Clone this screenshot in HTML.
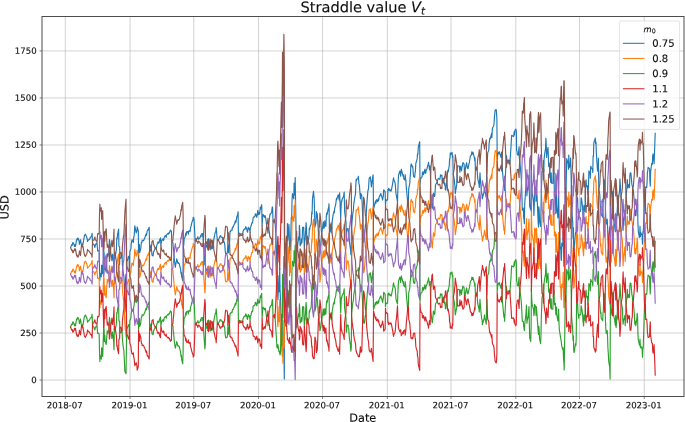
<!DOCTYPE html>
<html><head><meta charset="utf-8"><title>Straddle value</title>
<style>
html,body{margin:0;padding:0;background:#fff;}
svg{display:block;}
text{font-family:"DejaVu Sans","Liberation Sans",sans-serif;fill:#0d0d0d;stroke:#0d0d0d;stroke-width:0.12px;}
.tk{font-size:8.6px;}
.lg{font-size:10.0px;}
.ser{fill:none;stroke-width:1.15;stroke-linejoin:round;stroke-linecap:square;}
</style></head>
<body>
<svg width="685" height="422" viewBox="0 0 685 422">
<rect x="0" y="0" width="685" height="422" fill="#ffffff"/>
<path d="M65.30 16.5V396.5M130.06 16.5V396.5M193.76 16.5V396.5M258.52 16.5V396.5M322.58 16.5V396.5M387.33 16.5V396.5M451.04 16.5V396.5M515.80 16.5V396.5M579.50 16.5V396.5M644.26 16.5V396.5M42.0 380.05H684.0M42.0 333.04H684.0M42.0 286.02H684.0M42.0 239.00H684.0M42.0 191.99H684.0M42.0 144.97H684.0M42.0 97.96H684.0M42.0 50.94H684.0" stroke="#b0b0b0" stroke-width="0.56" fill="none"/>
<clipPath id="c"><rect x="42.0" y="16.5" width="642.00" height="380.00"/></clipPath>
<g clip-path="url(#c)">
<path class="ser" stroke="#1f77b4" d="M70.6 247.6L71.7 244.6L72.0 245.2L72.4 245.0L72.7 242.7L73.1 242.5L74.1 244.9L74.5 246.4L74.8 246.2L75.2 244.5L75.5 246.3L76.6 239.5L76.9 240.3L77.3 238.4L77.7 239.3L78.0 238.0L79.1 241.0L79.4 244.3L79.8 242.6L80.1 242.2L80.5 239.7L81.5 245.3L81.9 245.8L82.2 246.1L82.6 243.5L82.9 244.6L84.0 238.0L84.4 235.8L84.7 235.0L85.1 235.0L85.4 234.2L86.8 237.2L87.2 238.9L87.5 241.4L87.9 240.5L88.9 239.7L89.3 239.1L89.6 239.2L90.0 238.0L90.3 237.4L91.4 236.5L91.8 235.1L92.1 233.4L92.5 242.2L92.8 244.1L93.9 244.2L94.2 245.6L94.6 246.7L94.9 247.4L95.3 245.3L96.3 243.3L96.7 244.1L97.0 242.6L97.4 247.8L97.7 250.9L98.8 250.6L99.2 251.9L99.5 269.6L99.9 280.3L100.2 273.2L101.3 276.8L101.6 265.2L102.0 265.7L102.3 272.8L102.7 273.8L103.7 250.5L104.1 253.3L104.4 269.2L104.8 259.9L105.2 268.7L106.2 272.1L106.6 264.2L106.9 258.8L107.3 253.5L107.6 256.7L108.7 253.9L109.0 250.7L109.4 239.6L109.7 240.9L110.1 245.8L111.1 256.1L111.5 256.9L111.9 260.6L112.2 255.4L112.6 254.2L113.6 262.7L114.0 271.9L114.3 255.5L115.0 258.6L116.1 251.1L116.4 249.4L116.8 237.8L117.1 238.9L117.5 234.8L118.6 229.1L118.9 246.1L119.6 246.8L120.0 258.7L121.0 257.7L121.4 257.9L121.7 255.3L122.1 255.3L122.4 264.9L123.5 275.0L123.8 275.0L124.2 282.4L124.5 289.9L124.9 299.3L126.0 311.7L126.7 264.0L127.0 260.0L127.4 260.6L128.4 256.7L129.1 256.1L129.5 267.8L129.8 252.0L130.9 248.6L131.2 244.1L131.6 242.0L131.9 239.8L132.3 239.9L133.4 242.4L133.7 237.3L134.1 236.2L134.4 232.4L134.8 225.8L136.2 233.0L136.5 231.9L136.9 231.3L137.2 227.0L138.3 230.9L138.6 255.9L139.0 249.5L139.4 244.3L139.7 252.5L140.8 248.7L141.1 244.7L141.5 242.3L141.8 242.7L142.2 240.2L143.2 240.9L143.6 240.3L143.9 240.1L144.3 238.7L144.6 238.5L146.1 233.8L146.4 235.3L146.8 233.6L147.1 231.2L148.2 229.3L148.5 230.0L148.9 227.7L149.2 227.3L149.6 248.2L150.6 246.6L151.0 245.1L151.3 249.1L151.7 251.7L152.0 255.1L153.1 256.0L153.5 252.0L153.8 251.8L154.2 250.4L154.5 249.8L155.6 247.5L155.9 248.0L156.3 248.1L156.6 246.3L157.0 244.6L158.0 241.9L158.4 243.2L158.7 243.2L159.1 242.7L159.5 240.3L160.5 237.9L160.9 245.3L161.2 243.5L161.6 241.2L161.9 240.2L163.0 238.9L163.3 240.5L163.7 240.2L164.0 238.4L164.4 236.8L165.4 235.7L165.8 235.5L166.2 237.4L166.5 235.2L167.9 233.4L168.3 233.9L168.6 234.1L169.0 232.7L169.3 233.2L170.4 230.1L170.7 231.0L171.1 230.9L171.4 231.0L171.8 241.5L172.9 242.6L173.2 247.2L173.6 250.0L173.9 254.5L174.3 259.1L175.3 267.3L175.7 264.6L176.0 263.2L176.4 261.4L176.7 258.9L177.8 263.0L178.1 263.4L178.5 262.7L178.8 263.5L179.2 263.5L180.6 269.3L181.0 273.7L181.3 272.0L181.7 276.6L182.7 280.7L183.1 269.5L183.4 247.2L183.8 244.7L184.1 238.9L185.2 236.8L185.5 234.4L185.9 232.8L186.2 235.3L186.6 231.8L187.7 231.5L188.0 232.9L188.4 234.2L188.7 231.3L189.1 230.7L190.1 231.7L190.5 227.7L190.8 226.8L191.2 225.7L191.5 223.8L192.6 220.2L192.9 220.1L193.3 217.2L194.0 218.8L195.1 240.1L195.4 240.1L195.8 240.0L196.1 241.8L196.5 239.6L197.5 238.2L197.9 236.7L198.2 238.5L198.6 239.1L198.9 239.0L200.0 237.7L200.4 236.8L200.7 235.3L201.1 236.6L201.4 234.0L202.5 233.5L202.8 236.9L203.2 236.9L203.5 243.4L203.9 251.2L204.9 265.0L205.3 260.2L205.6 244.5L206.0 245.7L206.3 247.2L207.4 244.4L207.8 249.6L208.1 244.7L208.5 238.7L208.8 239.9L209.9 248.2L210.2 249.9L210.6 246.2L210.9 241.2L211.3 240.0L212.3 243.3L212.7 248.6L213.0 248.5L213.4 245.7L213.8 239.4L215.2 232.5L215.5 232.0L215.9 230.8L216.2 227.5L217.3 240.0L217.6 240.6L218.0 239.6L218.3 240.1L218.7 239.2L219.7 237.1L220.1 235.9L220.4 235.9L220.8 235.7L221.2 237.3L222.2 237.2L222.6 237.7L222.9 240.2L223.3 242.2L223.6 240.5L224.7 244.0L225.0 248.1L225.4 252.2L225.7 254.0L226.1 253.6L227.1 253.4L227.5 251.1L227.9 242.8L228.2 247.4L228.6 252.8L229.6 241.9L230.0 231.3L230.3 231.3L230.7 231.4L231.0 230.0L232.1 230.1L232.4 227.3L232.8 227.1L233.1 227.3L233.5 226.0L234.6 223.8L234.9 222.8L235.3 220.9L235.6 222.7L236.0 221.6L237.0 216.2L237.4 215.5L237.7 214.1L238.1 211.7L238.4 234.6L239.5 236.0L239.8 236.2L240.2 234.9L240.5 234.1L240.9 234.0L242.0 233.9L242.3 234.7L242.7 235.3L243.0 231.4L243.4 230.6L244.4 228.9L244.8 228.9L245.1 229.2L245.8 226.6L246.9 229.6L247.2 231.5L247.6 232.2L248.0 228.5L248.3 227.3L249.4 229.9L249.7 228.7L250.1 232.4L250.4 227.1L250.8 227.1L251.8 223.0L252.2 222.6L252.5 223.0L252.9 220.3L253.2 217.3L254.3 216.8L254.7 217.0L255.4 213.8L255.7 213.8L256.8 217.3L257.1 215.5L257.8 210.4L258.2 214.7L259.2 212.6L259.6 214.3L259.9 211.3L260.3 207.2L260.6 209.1L261.7 204.7L262.1 225.7L262.4 221.0L262.8 215.0L263.1 214.6L264.5 217.3L264.9 215.5L265.2 215.7L265.6 217.4L266.6 224.7L267.0 228.4L267.3 227.4L267.7 230.7L268.0 233.1L269.1 220.6L269.5 218.2L269.8 214.5L270.2 214.7L270.5 213.2L271.6 213.0L271.9 209.7L272.3 206.9L272.6 207.6L273.0 221.1L274.4 223.0L274.7 220.0L275.1 222.5L275.5 229.0L276.5 250.1L276.9 268.4L277.2 270.6L277.6 295.3L277.9 299.8L279.0 275.6L279.3 291.7L279.7 268.1L280.0 288.0L280.4 297.7L281.4 335.1L281.8 314.4L282.2 338.6L282.5 355.2L282.9 345.8L283.9 351.2L284.3 378.9L284.6 265.7L285.0 263.9L285.3 280.8L286.4 290.7L286.7 257.5L287.1 252.3L287.4 223.6L287.8 240.3L288.9 224.2L289.2 232.1L289.6 253.5L289.9 243.0L290.3 250.2L291.3 217.3L291.7 218.2L292.0 201.1L292.4 193.6L293.8 198.9L294.1 183.1L294.5 194.9L294.8 191.7L295.2 177.6L296.3 247.1L296.6 262.6L297.0 251.6L297.3 251.8L297.7 244.6L298.7 236.9L299.1 239.8L299.4 225.3L299.8 230.6L300.1 245.8L301.2 243.6L301.5 238.9L301.9 242.6L302.3 236.4L302.6 227.2L303.7 227.2L304.0 238.5L304.4 247.9L304.7 241.7L305.1 239.6L306.1 222.7L306.5 228.5L306.8 240.3L307.2 244.6L307.5 243.5L309.0 236.5L309.3 228.3L309.7 229.4L310.0 226.8L311.1 224.5L311.4 219.8L311.8 211.9L312.1 214.0L312.5 198.6L313.5 191.4L313.9 196.1L314.2 199.3L314.6 213.3L314.9 227.3L316.0 222.5L316.4 211.5L316.7 213.8L317.1 213.4L317.4 216.6L318.5 233.4L318.8 230.9L319.2 246.0L319.5 239.8L319.9 253.7L320.9 245.6L321.3 236.8L321.6 233.8L322.0 231.2L323.4 221.8L323.8 228.4L324.1 223.7L324.5 227.1L324.8 220.9L325.9 226.5L326.2 218.6L326.6 213.0L326.9 215.0L327.3 213.3L328.3 208.3L328.7 207.3L329.0 203.7L329.4 227.8L329.8 231.5L330.8 228.0L331.2 233.0L331.5 226.8L331.9 228.5L332.2 221.1L333.3 213.7L333.6 212.9L334.0 211.2L334.3 213.0L334.7 208.1L335.7 204.7L336.1 201.2L336.5 198.4L336.8 199.6L337.2 197.8L338.2 194.7L338.6 196.1L338.9 198.2L339.3 200.2L339.6 192.8L340.7 218.7L341.0 209.6L341.4 200.9L341.7 201.9L342.1 199.2L343.2 196.9L343.5 196.9L343.9 194.0L344.2 192.1L344.6 211.5L346.0 222.1L346.3 237.6L346.7 232.6L347.0 229.0L348.1 228.6L348.4 231.3L348.8 232.3L349.1 237.9L349.5 242.3L350.6 250.1L350.9 254.6L351.3 250.8L351.6 227.3L352.0 221.5L353.0 211.8L353.4 210.5L353.7 204.5L354.1 202.2L354.4 199.5L355.5 193.7L355.8 185.2L356.2 179.4L356.5 180.6L356.9 179.1L358.0 178.5L358.3 176.2L358.7 180.4L359.0 183.9L359.4 185.3L360.4 198.8L360.8 193.5L361.1 194.0L361.5 194.8L361.8 195.6L362.9 220.0L363.2 231.4L363.6 242.4L364.0 241.2L364.3 239.9L365.4 224.8L365.7 226.1L366.1 219.0L366.4 210.8L366.8 204.6L367.8 191.6L368.2 189.6L368.5 188.9L368.9 182.1L369.2 178.2L370.3 176.8L370.7 180.3L371.0 182.3L371.4 186.9L371.7 184.1L372.8 176.4L373.1 174.8L373.5 209.4L374.2 206.5L375.2 202.0L375.6 201.1L375.9 203.3L376.3 200.3L376.6 199.7L377.7 201.7L378.1 198.8L378.4 200.8L378.8 199.6L379.1 197.2L380.2 194.7L380.5 194.2L380.9 193.5L381.2 195.9L381.6 195.7L382.6 200.0L383.0 197.5L383.3 196.3L383.7 189.9L385.1 191.7L385.5 204.8L385.8 199.4L386.2 200.7L387.6 199.8L387.9 189.7L388.3 190.7L388.6 188.4L389.0 188.8L390.0 190.9L390.4 189.8L390.8 190.3L391.1 191.1L391.5 189.7L392.9 182.2L393.2 179.6L393.6 177.8L393.9 180.1L395.0 182.6L395.3 184.1L395.7 189.9L396.0 193.9L396.4 195.6L397.5 201.9L397.8 190.9L398.2 181.5L398.5 175.4L398.9 174.0L399.9 171.0L400.3 172.5L400.6 176.1L401.0 173.0L401.3 169.2L402.7 174.6L403.1 176.5L403.4 174.7L403.8 178.8L404.9 180.0L405.2 174.7L405.6 178.6L405.9 180.7L406.3 187.6L407.3 197.8L407.7 204.3L408.0 204.2L408.4 202.8L408.7 188.8L409.8 183.2L410.1 177.4L410.5 173.4L410.8 165.8L411.2 163.9L412.3 167.0L412.6 166.0L413.0 169.1L413.3 174.3L413.7 176.5L414.7 177.3L415.1 172.1L415.4 171.8L415.8 163.6L416.1 162.5L417.2 158.9L417.5 153.9L417.9 154.3L418.3 147.1L419.7 141.7L420.0 187.3L420.4 180.3L420.7 179.3L421.1 177.6L422.1 176.7L422.5 172.1L422.8 172.1L423.2 172.1L423.5 174.6L424.6 170.5L425.0 169.1L425.3 173.2L425.7 173.3L426.0 170.9L427.1 168.4L427.4 166.8L427.8 165.1L428.1 165.3L428.5 162.2L429.5 169.8L429.9 168.9L430.2 165.9L430.6 181.8L430.9 194.8L432.0 207.4L432.4 208.3L432.7 203.2L433.1 198.0L433.4 193.1L434.5 196.5L434.8 195.2L435.2 189.8L435.5 185.0L435.9 184.3L436.9 182.6L437.3 181.6L437.6 180.1L438.0 179.1L438.4 178.4L439.8 179.4L440.1 177.8L440.5 174.8L440.8 176.0L441.9 175.1L442.2 180.7L442.6 181.8L442.9 178.8L443.3 178.3L444.3 183.6L444.7 185.3L445.0 183.2L445.4 189.8L445.8 190.2L446.8 182.3L447.2 176.6L447.5 172.5L447.9 170.2L448.2 172.0L449.3 165.1L449.6 159.1L450.0 158.0L450.3 152.9L450.7 154.7L452.1 152.4L452.5 157.1L452.8 155.8L453.2 174.1L454.2 178.9L454.6 183.6L454.9 185.4L455.3 193.6L455.6 191.4L456.7 184.8L457.0 174.7L457.4 166.7L457.7 165.7L458.1 166.0L459.2 166.0L459.5 168.1L459.9 172.1L460.2 166.2L460.6 167.1L461.6 170.8L462.0 165.7L462.3 166.6L462.7 163.5L463.0 162.6L464.1 164.1L464.4 171.1L464.8 172.1L465.1 170.5L465.5 167.8L466.6 162.7L466.9 164.2L467.3 168.0L467.6 167.2L468.0 168.8L469.0 163.7L469.4 162.6L469.7 160.0L470.1 158.0L470.4 155.9L471.5 154.9L471.8 151.8L472.2 154.1L472.6 154.0L472.9 152.0L474.3 157.3L474.7 160.6L475.0 157.8L475.4 168.6L476.4 169.8L476.8 167.1L477.1 168.8L477.5 175.9L477.8 179.1L478.9 183.8L479.3 187.5L479.6 180.5L480.0 172.9L480.3 178.3L481.4 190.8L481.7 193.7L482.1 193.7L482.4 198.8L482.8 196.7L483.8 192.9L484.2 190.5L484.5 188.0L484.9 191.4L485.2 192.5L486.3 197.4L486.7 175.5L487.0 173.0L487.4 159.1L487.7 152.9L488.8 150.1L489.1 143.7L489.5 140.7L489.8 138.1L490.2 139.0L491.2 135.1L491.6 133.4L491.9 137.7L492.3 129.4L492.6 127.7L493.7 126.0L494.1 122.8L494.4 117.4L494.8 113.6L495.1 110.2L496.2 109.5L496.5 112.7L496.9 119.8L497.2 161.5L497.6 155.8L498.6 152.2L499.0 153.2L499.3 151.7L499.7 154.1L500.1 154.3L501.1 157.5L501.5 152.0L501.8 154.4L502.5 171.5L503.6 183.1L503.9 186.6L504.3 183.8L504.6 190.5L505.0 182.7L506.0 164.3L506.4 155.5L506.8 159.1L507.1 161.5L507.5 160.5L508.5 160.0L508.9 162.2L509.2 164.0L509.6 164.2L509.9 162.9L511.0 147.3L511.3 140.5L511.7 135.3L512.0 135.4L513.5 136.4L513.8 135.9L514.2 131.5L514.5 135.0L514.9 130.3L515.9 129.0L516.3 131.4L516.6 150.6L517.0 151.1L517.3 154.8L518.4 155.1L518.7 150.2L519.1 146.7L519.4 158.4L519.8 160.8L521.2 176.9L521.6 185.1L521.9 194.5L522.3 210.3L523.3 208.1L523.7 218.2L524.0 219.4L524.4 223.7L524.7 204.2L525.8 188.5L526.1 182.6L526.5 174.7L526.9 195.8L527.2 191.5L528.3 186.0L528.6 180.6L529.0 175.1L529.3 190.7L529.7 206.7L530.7 209.9L531.1 196.9L531.4 169.5L531.8 187.2L532.1 192.9L533.5 201.1L533.9 215.5L534.3 204.2L534.6 186.5L535.7 188.6L536.0 201.3L536.4 186.2L536.7 190.7L537.1 197.1L538.1 221.1L538.5 226.9L538.8 206.7L539.2 210.1L539.5 220.6L540.6 226.5L541.0 209.7L541.3 191.7L541.7 181.5L542.0 171.9L543.1 170.3L543.4 160.7L543.8 171.2L544.1 159.2L544.5 154.9L545.5 148.7L545.9 138.2L546.2 143.8L546.6 157.3L546.9 154.3L548.0 147.4L548.4 158.3L548.7 166.6L549.1 163.0L549.4 165.2L550.5 179.3L550.8 182.4L551.2 172.9L551.5 183.1L552.9 183.3L553.3 170.1L553.6 170.7L554.0 173.3L554.4 195.9L555.4 191.6L555.8 213.7L556.1 212.3L556.5 193.4L556.8 205.7L557.9 218.0L558.2 214.4L558.6 191.1L558.9 207.7L559.3 224.3L560.3 248.7L560.7 247.1L561.1 259.4L561.4 260.5L561.8 243.0L562.8 246.1L563.2 230.8L563.5 248.5L563.9 266.2L564.2 266.2L565.3 193.0L565.6 199.2L566.0 192.2L566.3 177.4L566.7 158.6L568.1 163.5L568.5 169.3L568.8 155.0L569.2 167.8L570.2 165.6L570.6 158.0L570.9 166.5L571.3 184.9L571.6 206.9L572.7 222.5L573.0 238.1L573.4 227.8L573.7 250.9L574.1 249.4L575.5 232.5L575.9 233.5L576.2 226.7L576.6 196.0L577.6 198.3L578.0 212.8L578.3 213.4L578.7 219.8L579.0 212.4L580.4 211.3L580.8 208.7L581.1 197.8L581.5 198.6L582.6 207.0L582.9 213.6L583.3 216.8L583.6 219.1L584.0 205.3L585.0 211.4L585.4 191.4L585.7 187.1L586.1 179.8L586.4 186.7L587.5 185.8L587.8 194.4L588.2 190.8L588.6 181.8L588.9 170.9L590.0 173.0L590.3 178.3L590.7 166.2L591.0 166.8L591.4 168.1L592.4 169.0L592.8 172.4L593.1 155.9L593.5 156.4L593.8 142.7L594.9 139.5L595.3 138.0L595.6 143.8L596.0 142.0L596.3 152.3L597.4 169.4L597.7 171.1L598.1 168.9L598.4 158.0L598.8 189.2L599.8 194.3L600.2 202.7L600.5 208.5L600.9 206.3L601.2 214.3L602.7 217.3L603.0 203.9L603.4 199.0L603.7 187.6L604.8 179.5L605.1 194.9L605.5 210.3L605.8 218.8L606.2 224.1L607.2 219.0L607.6 227.3L607.9 239.7L608.3 245.7L608.7 257.9L609.7 265.1L610.1 266.6L610.4 204.9L610.8 219.4L611.1 229.2L612.2 212.6L612.5 191.6L612.9 193.1L613.2 200.3L613.6 219.9L614.6 225.2L615.0 229.5L615.4 231.8L615.7 214.4L616.1 230.7L617.1 212.9L617.5 205.0L617.8 209.7L618.2 215.2L618.5 198.8L619.6 190.5L619.9 178.9L620.3 184.1L620.6 188.7L621.0 196.6L622.0 202.0L622.4 205.0L622.8 222.9L623.1 230.3L623.5 221.0L624.5 214.3L624.9 210.3L625.2 225.2L625.6 212.2L625.9 199.2L627.0 186.1L627.3 179.5L627.7 185.7L628.0 188.0L628.4 184.6L629.5 187.4L629.8 177.3L630.2 172.9L630.9 173.1L631.9 184.8L632.3 185.9L632.6 188.2L633.0 188.8L633.3 189.7L634.4 203.4L634.7 214.3L635.1 215.7L635.4 210.2L635.8 215.7L636.9 205.0L637.2 199.5L637.6 204.2L637.9 222.8L638.3 231.1L639.3 237.5L639.7 236.7L640.0 226.2L640.4 236.7L640.7 232.4L642.1 235.4L642.5 244.1L642.9 231.7L643.2 233.4L644.6 200.2L645.0 194.8L645.3 203.3L645.7 186.9L646.7 187.5L647.1 182.4L647.4 172.8L647.8 170.4L648.1 167.4L649.6 168.9L649.9 180.5L650.3 186.2L650.6 172.2L651.7 163.4L652.0 164.0L652.4 164.2L652.7 155.9L653.1 153.8L654.1 163.8L654.5 152.7L654.8 144.8L655.2 133.3"/>
<path class="ser" stroke="#ff7f0e" d="M70.6 274.1L71.7 271.1L72.0 271.7L72.4 271.5L72.7 269.2L73.1 269.0L74.1 271.4L74.5 272.9L74.8 272.7L75.2 271.0L75.5 272.8L76.6 266.0L76.9 266.8L77.3 264.9L77.7 265.8L78.0 264.5L79.1 267.4L79.4 270.8L79.8 269.1L80.1 268.7L80.5 266.2L81.5 272.3L81.9 272.7L82.2 273.0L82.6 270.5L82.9 271.5L84.0 264.9L84.4 262.8L84.7 261.9L85.1 261.9L85.4 261.1L86.8 264.1L87.2 265.8L87.5 268.3L87.9 267.5L88.9 266.6L89.3 266.0L89.6 266.1L90.0 265.0L90.3 264.4L91.4 263.4L91.8 262.0L92.1 260.3L92.5 269.8L92.8 271.7L93.9 271.8L94.2 273.2L94.6 274.2L94.9 275.0L95.3 272.9L96.3 270.9L96.7 271.7L97.0 270.2L97.4 275.3L97.7 278.5L98.8 278.2L99.2 279.5L99.5 297.2L99.9 307.9L100.2 300.7L101.3 304.4L101.6 292.8L102.0 293.2L102.3 300.3L102.7 301.4L103.7 276.3L104.1 279.2L104.4 294.9L104.8 285.7L105.2 294.5L106.2 297.8L106.6 290.1L106.9 284.7L107.3 279.4L107.6 282.6L108.7 279.8L109.0 276.6L109.4 265.5L109.7 266.8L110.1 271.7L111.1 282.0L111.5 282.8L111.9 286.5L112.2 281.3L112.6 280.2L113.6 288.6L114.0 297.8L114.3 280.3L115.0 283.5L116.1 276.0L116.4 274.4L116.8 262.7L117.1 263.8L117.5 259.7L118.6 254.0L118.9 271.0L119.6 271.7L120.0 283.6L121.0 282.6L121.4 282.8L121.7 280.2L122.1 280.2L122.4 289.8L123.5 299.9L123.8 299.9L124.2 307.3L124.5 314.8L124.9 324.2L126.0 336.6L126.7 287.0L127.0 283.1L127.4 283.7L128.4 279.8L129.1 279.3L129.5 290.9L129.8 275.2L130.9 271.8L131.2 267.3L131.6 265.2L131.9 263.0L132.3 263.2L133.4 265.6L133.7 260.5L134.1 259.4L134.4 255.6L134.8 249.0L136.2 256.2L136.5 255.1L136.9 254.5L137.2 250.2L138.3 254.1L138.6 280.7L139.0 274.3L139.4 269.1L139.7 277.3L140.8 273.5L141.1 269.5L141.5 267.1L141.8 267.5L142.2 265.0L143.2 265.7L143.6 265.1L143.9 264.9L144.3 263.5L144.6 263.3L146.1 258.6L146.4 260.2L146.8 258.4L147.1 256.0L148.2 254.1L148.5 254.8L148.9 252.5L149.2 252.2L149.6 274.6L150.6 272.9L151.0 271.4L151.3 275.5L151.7 278.1L152.0 281.4L153.1 282.3L153.5 278.4L153.8 278.1L154.2 276.7L154.5 276.2L155.6 273.9L155.9 274.3L156.3 274.4L156.6 272.6L157.0 271.0L158.0 268.3L158.4 269.5L158.7 269.5L159.1 269.1L159.5 266.7L160.5 264.3L160.9 272.2L161.2 270.4L161.6 268.2L161.9 267.2L163.0 265.8L163.3 267.5L163.7 267.2L164.0 265.3L164.4 263.8L165.4 262.6L165.8 262.4L166.2 264.3L166.5 262.2L167.9 260.3L168.3 260.9L168.6 261.0L169.0 259.7L169.3 260.1L170.4 257.0L170.7 258.0L171.1 257.9L171.4 258.0L171.8 269.2L172.9 270.3L173.2 274.9L173.6 277.7L173.9 282.2L174.3 286.8L175.3 294.9L175.7 292.3L176.0 290.9L176.4 289.1L176.7 286.6L177.8 290.7L178.1 291.1L178.5 290.4L178.8 291.2L179.2 291.2L180.6 297.0L181.0 301.4L181.3 299.7L181.7 304.3L182.7 308.4L183.1 297.2L183.4 273.8L183.8 271.3L184.1 265.5L185.2 263.3L185.5 260.9L185.9 259.4L186.2 261.8L186.6 258.3L187.7 258.1L188.0 259.5L188.4 260.8L188.7 257.8L189.1 257.3L190.1 258.3L190.5 254.2L190.8 253.3L191.2 252.3L191.5 250.4L192.6 246.7L192.9 246.6L193.3 243.7L194.0 245.4L195.1 268.1L195.4 268.1L195.8 268.0L196.1 269.8L196.5 267.6L197.5 266.2L197.9 264.7L198.2 266.4L198.6 267.1L198.9 267.0L200.0 265.6L200.4 264.8L200.7 263.3L201.1 264.6L201.4 262.0L202.5 261.5L202.8 264.9L203.2 264.9L203.5 271.3L203.9 279.2L204.9 292.9L205.3 288.2L205.6 271.6L206.0 272.8L206.3 274.3L207.4 271.5L207.8 276.7L208.1 271.8L208.5 265.8L208.8 267.0L209.9 275.3L210.2 277.1L210.6 273.4L210.9 268.3L211.3 267.1L212.3 270.4L212.7 275.7L213.0 275.6L213.4 272.8L213.8 266.5L215.2 259.7L215.5 259.1L215.9 257.9L216.2 254.6L217.3 268.0L217.6 268.6L218.0 267.6L218.3 268.0L218.7 267.2L219.7 265.1L220.1 263.9L220.4 263.9L220.8 263.7L221.2 265.3L222.2 265.2L222.6 265.7L222.9 268.2L223.3 270.2L223.6 268.5L224.7 272.0L225.0 276.1L225.4 280.2L225.7 282.0L226.1 281.6L227.1 281.4L227.5 279.1L227.9 270.3L228.2 274.8L228.6 280.2L229.6 269.3L230.0 258.7L230.3 258.8L230.7 258.8L231.0 257.5L232.1 257.6L232.4 254.7L232.8 254.6L233.1 254.7L233.5 253.4L234.6 251.3L234.9 250.3L235.3 248.4L235.6 250.1L236.0 249.1L237.0 243.6L237.4 243.0L237.7 241.6L238.1 239.2L238.4 263.7L239.5 265.1L239.8 265.3L240.2 263.9L240.5 263.1L240.9 263.1L242.0 263.0L242.3 263.8L242.7 264.4L243.0 260.5L243.4 259.7L244.4 258.0L244.8 258.0L245.1 258.3L245.8 255.6L246.9 258.7L247.2 260.6L247.6 261.3L248.0 257.6L248.3 256.4L249.4 259.0L249.7 257.8L250.1 261.9L250.4 256.6L250.8 256.6L251.8 252.5L252.2 252.1L252.5 252.5L252.9 249.9L253.2 246.9L254.3 246.3L254.7 246.5L255.4 243.3L255.7 243.3L256.8 246.9L257.1 245.0L257.8 239.9L258.2 244.2L259.2 242.2L259.6 243.9L259.9 240.8L260.3 236.7L260.6 238.6L261.7 234.3L262.1 256.6L262.4 251.9L262.8 245.9L263.1 245.5L264.5 248.1L264.9 246.4L265.2 246.6L265.6 248.3L266.6 255.6L267.0 259.3L267.3 258.2L267.7 261.6L268.0 264.0L269.1 251.5L269.5 249.1L269.8 245.4L270.2 245.6L270.5 244.1L271.6 243.9L271.9 240.6L272.3 237.8L272.6 238.4L273.0 252.9L274.4 254.8L274.7 251.8L275.1 254.2L275.5 260.8L276.5 281.7L276.9 299.4L277.2 301.6L277.6 322.8L277.9 326.7L279.0 306.7L279.3 321.4L279.7 299.8L280.0 318.9L280.4 327.8L281.4 350.8L281.8 342.6L282.2 356.0L282.5 336.2L282.9 363.2L283.9 320.2L284.3 347.1L284.6 286.1L285.0 284.7L285.3 299.2L286.4 306.8L286.7 279.0L287.1 274.1L287.4 246.0L287.8 262.6L288.9 246.7L289.2 254.6L289.6 275.8L289.9 265.5L290.3 272.6L291.3 239.8L291.7 240.8L292.0 223.7L292.4 216.1L293.8 221.4L294.1 205.6L294.5 217.5L294.8 214.3L295.2 200.2L296.3 273.0L296.6 287.5L297.0 277.4L297.3 277.8L297.7 270.9L298.7 263.3L299.1 266.2L299.4 251.8L299.8 257.1L300.1 272.3L301.2 270.1L301.5 265.4L301.9 269.2L302.3 263.0L302.6 253.7L303.7 253.7L304.0 265.0L304.4 274.4L304.7 268.2L305.1 266.2L306.1 249.2L306.5 255.1L306.8 268.0L307.2 272.3L307.5 271.2L309.0 264.4L309.3 256.2L309.7 257.3L310.0 254.7L311.1 252.5L311.4 247.8L311.8 239.9L312.1 241.9L312.5 226.5L313.5 219.4L313.9 224.1L314.2 227.3L314.6 241.3L314.9 255.3L316.0 250.4L316.4 239.5L316.7 241.8L317.1 241.4L317.4 244.6L318.5 262.4L318.8 260.0L319.2 274.7L319.5 268.8L319.9 282.2L320.9 274.5L321.3 266.0L321.6 263.1L322.0 260.5L323.4 251.1L323.8 257.7L324.1 253.0L324.5 256.4L324.8 250.2L325.9 255.8L326.2 247.9L326.6 242.3L326.9 244.3L327.3 242.7L328.3 237.6L328.7 236.6L329.0 233.1L329.4 258.0L329.8 261.7L330.8 258.2L331.2 263.3L331.5 257.2L331.9 258.8L332.2 251.5L333.3 244.1L333.6 243.3L334.0 241.6L334.3 243.4L334.7 238.5L335.7 235.1L336.1 231.6L336.5 228.8L336.8 230.0L337.2 228.2L338.2 225.1L338.6 226.6L338.9 228.6L339.3 230.6L339.6 223.2L340.7 250.9L341.0 241.9L341.4 233.2L341.7 234.1L342.1 231.5L343.2 229.2L343.5 229.1L343.9 226.2L344.2 224.4L344.6 243.7L346.0 254.4L346.3 269.8L346.7 264.8L347.0 261.2L348.1 260.9L348.4 263.6L348.8 264.6L349.1 270.2L349.5 274.6L350.6 282.4L350.9 286.8L351.3 283.1L351.6 257.6L352.0 251.9L353.0 242.2L353.4 240.9L353.7 235.0L354.1 232.7L354.4 230.0L355.5 224.3L355.8 215.7L356.2 210.0L356.5 211.1L356.9 209.7L358.0 209.0L358.3 206.8L358.7 210.9L359.0 214.4L359.4 215.9L360.4 229.3L360.8 224.1L361.1 224.5L361.5 225.4L361.8 226.1L362.9 251.5L363.2 262.5L363.6 272.8L364.0 271.9L364.3 270.9L365.4 256.5L365.7 257.8L366.1 250.9L366.4 242.8L366.8 236.6L367.8 223.6L368.2 221.6L368.5 220.8L368.9 214.0L369.2 210.2L370.3 208.8L370.7 212.3L371.0 214.3L371.4 218.9L371.7 216.1L372.8 208.3L373.1 206.8L373.5 243.4L374.2 240.6L375.2 236.1L375.6 235.3L375.9 237.5L376.3 234.5L376.6 233.9L377.7 235.8L378.1 232.9L378.4 235.0L378.8 233.7L379.1 231.4L380.2 228.8L380.5 228.3L380.9 227.6L381.2 230.0L381.6 229.8L382.6 234.2L383.0 231.6L383.3 230.5L383.7 224.1L385.1 225.8L385.5 239.7L385.8 234.4L386.2 235.7L387.6 234.8L387.9 224.7L388.3 225.8L388.6 223.5L389.0 223.9L390.0 225.9L390.4 224.9L390.8 225.3L391.1 226.2L391.5 224.8L392.9 217.3L393.2 214.6L393.6 212.8L393.9 215.2L395.0 217.6L395.3 219.1L395.7 224.9L396.0 228.9L396.4 230.7L397.5 237.2L397.8 226.4L398.2 217.1L398.5 210.9L398.9 209.6L399.9 206.6L400.3 208.1L400.6 211.7L401.0 208.7L401.3 204.9L402.7 210.2L403.1 212.1L403.4 210.3L403.8 214.4L404.9 215.6L405.2 210.3L405.6 214.2L405.9 216.4L406.3 223.3L407.3 233.4L407.7 239.9L408.0 239.8L408.4 238.1L408.7 224.2L409.8 218.6L410.1 212.8L410.5 208.8L410.8 201.2L411.2 199.3L412.3 202.4L412.6 201.5L413.0 204.5L413.3 209.7L413.7 211.9L414.7 212.7L415.1 207.5L415.4 207.3L415.8 199.0L416.1 197.9L417.2 194.4L417.5 189.3L417.9 189.7L418.3 182.5L419.7 177.1L420.0 225.8L420.4 218.9L420.7 217.8L421.1 216.1L422.1 215.2L422.5 210.7L422.8 210.7L423.2 210.6L423.5 213.2L424.6 209.1L425.0 207.6L425.3 211.8L425.7 211.8L426.0 209.5L427.1 206.9L427.4 205.3L427.8 203.7L428.1 203.8L428.5 200.7L429.5 208.3L429.9 207.4L430.2 204.4L430.6 221.4L430.9 234.4L432.0 246.9L432.4 247.9L432.7 242.8L433.1 237.6L433.4 232.8L434.5 236.2L434.8 234.8L435.2 229.4L435.5 224.6L435.9 224.0L436.9 222.3L437.3 221.3L437.6 219.7L438.0 218.7L438.4 218.1L439.8 219.0L440.1 217.4L440.5 214.5L440.8 215.6L441.9 214.7L442.2 220.5L442.6 221.6L442.9 218.7L443.3 218.1L444.3 223.5L444.7 225.1L445.0 223.0L445.4 229.6L445.8 230.0L446.8 222.2L447.2 216.5L447.5 212.3L447.9 210.1L448.2 211.9L449.3 205.0L449.6 199.0L450.0 197.8L450.3 192.8L450.7 194.5L452.1 192.2L452.5 197.0L452.8 195.6L453.2 215.3L454.2 220.1L454.6 224.8L454.9 226.6L455.3 234.8L455.6 232.5L456.7 225.9L457.0 215.9L457.4 207.9L457.7 206.9L458.1 207.2L459.2 207.2L459.5 209.3L459.9 213.3L460.2 207.4L460.6 208.3L461.6 212.0L462.0 206.8L462.3 207.7L462.7 204.7L463.0 203.8L464.1 205.3L464.4 212.9L464.8 213.9L465.1 212.2L465.5 209.6L466.6 204.4L466.9 206.0L467.3 209.8L467.6 209.0L468.0 210.5L469.0 205.4L469.4 204.4L469.7 201.8L470.1 199.8L470.4 197.7L471.5 196.7L471.8 193.6L472.2 195.9L472.6 195.8L472.9 193.8L474.3 199.1L474.7 202.4L475.0 199.6L475.4 210.8L476.4 212.0L476.8 209.4L477.1 211.1L477.5 218.2L477.8 221.3L478.9 226.1L479.3 229.8L479.6 222.8L480.0 215.2L480.3 220.6L481.4 233.1L481.7 236.0L482.1 236.0L482.4 241.1L482.8 239.0L483.8 235.2L484.2 232.8L484.5 230.3L484.9 233.7L485.2 234.8L486.3 239.6L486.7 216.4L487.0 213.9L487.4 200.0L487.7 193.8L488.8 191.0L489.1 184.6L489.5 181.6L489.8 179.0L490.2 179.9L491.2 176.0L491.6 174.3L491.9 178.6L492.3 170.3L492.6 168.6L493.7 166.9L494.1 163.7L494.4 158.3L494.8 154.5L495.1 151.1L496.2 150.4L496.5 153.6L496.9 160.7L497.2 205.2L497.6 199.5L498.6 196.0L499.0 196.9L499.3 195.4L499.7 197.8L500.1 198.0L501.1 201.2L501.5 195.7L501.8 198.1L502.5 215.2L503.6 226.8L503.9 230.3L504.3 227.5L504.6 234.2L505.0 226.4L506.0 208.0L506.4 199.2L506.8 202.9L507.1 205.2L507.5 204.2L508.5 203.7L508.9 205.7L509.2 207.5L509.6 207.7L509.9 206.4L511.0 190.8L511.3 184.0L511.7 178.8L512.0 179.0L513.5 179.9L513.8 179.4L514.2 175.1L514.5 178.5L514.9 173.9L515.9 172.6L516.3 175.0L516.6 194.2L517.0 194.7L517.3 198.3L518.4 198.7L518.7 193.8L519.1 190.3L519.4 201.9L519.8 204.5L521.2 220.4L521.6 228.5L521.9 237.6L522.3 252.8L523.3 250.9L523.7 260.6L524.0 261.9L524.4 266.2L524.7 247.7L525.8 232.2L526.1 226.5L526.5 218.6L526.9 239.6L527.2 235.3L528.3 229.9L528.6 224.4L529.0 219.0L529.3 234.6L529.7 250.6L530.7 253.7L531.1 240.8L531.4 211.1L531.8 228.2L532.1 233.8L533.5 241.6L533.9 255.1L534.3 245.0L534.6 228.2L535.7 230.3L536.0 242.8L536.4 228.1L536.7 232.6L537.1 239.0L538.1 262.5L538.5 268.4L538.8 248.7L539.2 252.1L539.5 262.6L540.6 268.5L541.0 251.8L541.3 233.7L541.7 223.6L542.0 214.0L543.1 212.1L543.4 202.6L543.8 213.1L544.1 201.1L544.5 196.8L545.5 190.6L545.9 180.1L546.2 185.7L546.6 199.3L546.9 196.3L548.0 189.3L548.4 200.2L548.7 208.5L549.1 204.9L549.4 207.2L550.5 221.3L550.8 224.3L551.2 214.9L551.5 225.1L552.9 225.2L553.3 212.1L553.6 212.6L554.0 214.2L554.4 235.9L555.4 232.0L555.8 252.8L556.1 251.7L556.5 234.1L556.8 246.1L557.9 257.8L558.2 254.7L558.6 232.3L558.9 248.6L559.3 264.7L560.3 287.5L560.7 286.6L561.1 298.1L561.4 299.9L561.8 284.0L562.8 287.2L563.2 272.1L563.5 289.8L563.9 307.5L564.2 307.5L565.3 229.9L565.6 236.0L566.0 229.2L566.3 214.6L566.7 195.9L568.1 200.8L568.5 206.6L568.8 192.4L569.2 205.2L570.2 202.9L570.6 195.4L570.9 203.9L571.3 222.3L571.6 244.3L572.7 259.9L573.0 275.4L573.4 265.2L573.7 288.2L574.1 286.8L575.5 269.9L575.9 270.8L576.2 264.1L576.6 232.5L577.6 234.7L578.0 248.9L578.3 249.6L578.7 255.8L579.0 248.8L580.4 247.8L580.8 245.3L581.1 234.6L581.5 235.3L582.6 243.8L582.9 250.3L583.3 253.5L583.6 255.8L584.0 242.1L585.0 248.1L585.4 228.2L585.7 223.9L586.1 216.6L586.4 223.5L587.5 222.6L587.8 231.2L588.2 228.6L588.6 219.6L588.9 208.7L590.0 210.8L590.3 216.1L590.7 204.1L591.0 204.6L591.4 205.9L592.4 206.9L592.8 210.3L593.1 193.7L593.5 194.3L593.8 180.6L594.9 177.4L595.3 175.9L595.6 181.7L596.0 179.8L596.3 190.1L597.4 207.3L597.7 209.0L598.1 206.7L598.4 195.8L598.8 227.1L599.8 232.1L600.2 240.3L600.5 246.0L600.9 244.0L601.2 251.9L602.7 254.9L603.0 241.9L603.4 237.1L603.7 225.7L604.8 217.6L605.1 233.0L605.5 248.4L605.8 256.9L606.2 262.2L607.2 257.1L607.6 265.4L607.9 277.8L608.3 283.8L608.7 296.1L609.7 303.2L610.1 304.7L610.4 239.1L610.8 252.9L611.1 262.1L612.2 246.9L612.5 226.4L612.9 227.9L613.2 235.0L613.6 254.3L614.6 259.5L615.0 263.8L615.4 266.2L615.7 249.3L616.1 265.4L617.1 247.9L617.5 240.0L617.8 244.7L618.2 250.1L618.5 233.8L619.6 225.5L619.9 213.8L620.3 219.1L620.6 223.6L621.0 233.0L622.0 238.4L622.4 241.4L622.8 258.6L623.1 265.8L623.5 257.1L624.5 250.7L624.9 246.9L625.2 261.5L625.6 248.8L625.9 235.8L627.0 222.8L627.3 216.2L627.7 222.4L628.0 224.7L628.4 221.3L629.5 224.1L629.8 214.0L630.2 209.6L630.9 209.8L631.9 221.5L632.3 222.6L632.6 226.5L633.0 227.1L633.3 228.1L634.4 241.7L634.7 252.5L635.1 253.9L635.4 248.5L635.8 253.9L636.9 243.3L637.2 237.9L637.6 242.6L637.9 261.2L638.3 269.4L639.3 275.8L639.7 275.1L640.0 264.6L640.4 275.1L640.7 270.8L642.1 273.8L642.5 282.4L642.9 270.0L643.2 271.7L644.6 236.1L645.0 230.7L645.3 239.1L645.7 222.8L646.7 223.4L647.1 218.3L647.4 208.8L647.8 206.3L648.1 203.3L649.6 204.8L649.9 216.5L650.3 222.1L650.6 208.2L651.7 199.4L652.0 199.9L652.4 200.1L652.7 191.8L653.1 189.8L654.1 199.7L654.5 188.6L654.8 180.7L655.2 169.3"/>
<path class="ser" stroke="#2ca02c" d="M70.6 326.9L71.7 324.0L72.0 324.6L72.4 324.4L72.7 322.1L73.1 321.9L74.1 324.4L74.5 325.8L74.8 325.7L75.2 323.9L75.5 325.8L76.6 319.0L76.9 319.8L77.3 317.8L77.7 318.8L78.0 317.5L79.1 320.4L79.4 323.7L79.8 322.0L80.1 321.7L80.5 319.1L81.5 326.0L81.9 326.5L82.2 326.8L82.6 324.3L82.9 325.4L84.0 318.8L84.4 316.7L84.7 315.8L85.1 315.8L85.4 315.0L86.8 318.0L87.2 319.7L87.5 322.2L87.9 321.4L88.9 320.5L89.3 319.9L89.6 320.0L90.0 318.9L90.3 318.3L91.4 317.3L91.8 315.9L92.1 314.2L92.5 324.8L92.8 326.7L93.9 326.8L94.2 328.2L94.6 329.2L94.9 330.0L95.3 327.9L96.3 326.0L96.7 326.8L97.0 325.3L97.4 330.4L97.7 333.5L98.8 333.3L99.2 334.6L99.5 352.0L99.9 361.4L100.2 355.6L101.3 359.2L101.6 347.9L102.0 348.3L102.3 355.5L102.7 356.5L103.7 326.8L104.1 329.4L104.4 341.4L104.8 335.2L105.2 341.9L106.2 344.5L106.6 339.4L106.9 335.2L107.3 330.7L107.6 333.8L108.7 331.3L109.0 328.3L109.4 317.3L109.7 318.6L110.1 323.5L111.1 333.8L111.5 334.6L111.9 338.4L112.2 333.1L112.6 332.0L113.6 340.4L114.0 349.7L114.3 328.9L115.0 331.7L116.1 325.1L116.4 323.6L116.8 312.4L117.1 313.5L117.5 309.5L118.6 303.9L118.9 320.7L119.6 321.5L120.0 333.1L121.0 332.3L121.4 332.5L121.7 330.0L122.1 330.0L122.4 339.5L123.5 349.3L123.8 349.6L124.2 356.7L124.5 363.8L124.9 371.8L126.0 373.7L126.7 330.5L127.0 327.4L127.4 328.1L128.4 324.8L129.1 324.5L129.5 334.8L129.8 321.0L130.9 317.8L131.2 313.5L131.6 311.5L131.9 309.3L132.3 309.5L133.4 312.0L133.7 306.9L134.1 305.8L134.4 302.0L134.8 295.5L136.2 302.6L136.5 301.5L136.9 300.9L137.2 296.6L138.3 300.5L138.6 329.5L139.0 323.5L139.4 318.6L139.7 326.5L140.8 323.0L141.1 319.0L141.5 316.7L141.8 317.1L142.2 314.7L143.2 315.4L143.6 314.7L143.9 314.6L144.3 313.1L144.6 313.0L146.1 308.2L146.4 309.8L146.8 308.0L147.1 305.7L148.2 303.8L148.5 304.5L148.9 302.2L149.2 301.8L149.6 326.9L150.6 325.4L151.0 323.9L151.3 328.0L151.7 330.5L152.0 333.7L153.1 334.6L153.5 330.9L153.8 330.7L154.2 329.4L154.5 328.9L155.6 326.6L155.9 327.1L156.3 327.2L156.6 325.4L157.0 323.7L158.0 321.0L158.4 322.2L158.7 322.3L159.1 321.8L159.5 319.4L160.5 317.0L160.9 325.8L161.2 324.1L161.6 322.0L161.9 321.0L163.0 319.7L163.3 321.4L163.7 321.0L164.0 319.2L164.4 317.7L165.4 316.5L165.8 316.4L166.2 318.2L166.5 316.1L167.9 314.3L168.3 314.8L168.6 314.9L169.0 313.6L169.3 314.0L170.4 310.9L170.7 311.9L171.1 311.8L171.4 311.9L171.8 324.4L172.9 325.5L173.2 329.9L173.6 332.7L173.9 336.9L174.3 341.3L175.3 348.2L175.7 346.3L176.0 345.3L176.4 343.9L176.7 341.6L177.8 345.6L178.1 346.1L178.5 345.6L178.8 346.4L179.2 346.5L180.6 352.2L181.0 356.5L181.3 355.1L181.7 359.6L182.7 363.8L183.1 352.6L183.4 326.3L183.8 324.1L184.1 318.5L185.2 316.4L185.5 314.0L185.9 312.5L186.2 314.9L186.6 311.5L187.7 311.2L188.0 312.6L188.4 314.0L188.7 311.0L189.1 310.4L190.1 311.4L190.5 307.4L190.8 306.5L191.2 305.4L191.5 303.5L192.6 299.9L192.9 299.8L193.3 296.9L194.0 298.5L195.1 323.6L195.4 323.7L195.8 323.6L196.1 325.5L196.5 323.4L197.5 322.0L197.9 320.6L198.2 322.3L198.6 323.0L198.9 322.9L200.0 321.6L200.4 320.7L200.7 319.2L201.1 320.6L201.4 317.9L202.5 317.5L202.8 320.8L203.2 320.9L203.5 327.3L203.9 335.2L204.9 348.9L205.3 344.1L205.6 325.6L206.0 326.8L206.3 328.3L207.4 325.6L207.8 330.7L208.1 326.0L208.5 320.0L208.8 321.2L209.9 329.5L210.2 331.2L210.6 327.6L210.9 322.5L211.3 321.4L212.3 324.7L212.7 329.9L213.0 329.9L213.4 327.0L213.8 320.7L215.2 313.9L215.5 313.4L215.9 312.1L216.2 308.8L217.3 323.1L217.6 323.7L218.0 322.9L218.3 323.4L218.7 322.7L219.7 320.8L220.1 319.7L220.4 319.7L220.8 319.6L221.2 321.2L222.2 321.1L222.6 321.7L222.9 324.2L223.3 326.2L223.6 324.5L224.7 328.0L225.0 332.1L225.4 336.2L225.7 338.0L226.1 337.6L227.1 337.4L227.5 335.1L227.9 324.7L228.2 329.1L228.6 334.1L229.6 324.0L230.0 313.5L230.3 313.6L230.7 313.7L231.0 312.3L232.1 312.4L232.4 309.6L232.8 309.5L233.1 309.6L233.5 308.3L234.6 306.1L234.9 305.2L235.3 303.3L235.6 305.0L236.0 304.0L237.0 298.5L237.4 297.9L237.7 296.4L238.1 294.1L238.4 321.4L239.5 322.8L239.8 323.1L240.2 321.8L240.5 321.1L240.9 321.1L242.0 321.1L242.3 321.9L242.7 322.5L243.0 318.7L243.4 317.9L244.4 316.1L244.8 316.2L245.1 316.5L245.8 313.8L246.9 316.8L247.2 318.8L247.6 319.5L248.0 315.7L248.3 314.6L249.4 317.1L249.7 316.0L250.1 320.8L250.4 315.6L250.8 315.6L251.8 311.5L252.2 311.2L252.5 311.6L252.9 308.9L253.2 305.9L254.3 305.4L254.7 305.6L255.4 302.4L255.7 302.4L256.8 305.9L257.1 304.1L257.8 299.0L258.2 303.3L259.2 301.2L259.6 302.9L259.9 299.9L260.3 295.8L260.6 297.7L261.7 293.3L262.1 318.1L262.4 313.5L262.8 307.6L263.1 307.2L264.5 309.8L264.9 308.1L265.2 308.3L265.6 310.0L266.6 317.3L267.0 321.0L267.3 320.0L267.7 323.3L268.0 325.7L269.1 313.2L269.5 310.9L269.8 307.1L270.2 307.3L270.5 305.8L271.6 305.6L271.9 302.3L272.3 299.5L272.6 300.2L273.0 316.0L274.4 317.8L274.7 315.0L275.1 317.4L275.5 323.6L276.5 339.5L276.9 346.8L277.2 348.1L277.6 345.5L277.9 344.7L279.0 351.8L279.3 351.0L279.7 352.8L280.0 354.9L280.4 353.3L281.4 323.1L281.8 345.8L282.2 323.0L282.5 274.5L282.9 317.8L283.9 256.7L284.3 283.6L284.6 319.9L285.0 319.5L285.3 325.3L286.4 326.5L286.7 317.1L287.1 313.7L287.4 289.4L287.8 304.8L288.9 290.6L289.2 298.2L289.6 317.7L289.9 309.0L290.3 315.9L291.3 284.8L291.7 285.8L292.0 268.7L292.4 261.2L293.8 266.5L294.1 250.7L294.5 262.6L294.8 259.4L295.2 245.2L296.3 319.7L296.6 328.0L297.0 323.4L297.3 324.1L297.7 319.7L298.7 313.7L299.1 316.5L299.4 303.8L299.8 309.0L300.1 323.0L301.2 321.4L301.5 317.5L301.9 321.2L302.3 315.6L302.6 306.7L303.7 306.8L304.0 318.0L304.4 327.4L304.7 321.3L305.1 319.2L306.1 302.3L306.5 308.2L306.8 320.3L307.2 323.8L307.5 323.4L309.0 318.1L309.3 310.9L309.7 312.1L310.0 309.8L311.1 307.8L311.4 303.4L311.8 295.6L312.1 297.7L312.5 282.4L313.5 275.3L313.9 280.0L314.2 283.2L314.6 297.2L314.9 311.2L316.0 306.3L316.4 295.4L316.7 297.6L317.1 297.3L317.4 300.5L318.5 316.4L318.8 314.8L319.2 325.4L319.5 322.1L319.9 330.8L320.9 327.0L321.3 321.4L321.6 319.5L322.0 317.5L323.4 309.0L323.8 315.4L324.1 311.2L324.5 314.6L324.8 308.6L325.9 314.3L326.2 306.5L326.6 300.9L326.9 303.0L327.3 301.3L328.3 296.2L328.7 295.3L329.0 291.7L329.4 315.0L329.8 318.1L330.8 315.8L331.2 320.0L331.5 315.6L331.9 317.3L332.2 311.0L333.3 304.3L333.6 303.6L334.0 302.1L334.3 304.0L334.7 299.3L335.7 295.9L336.1 292.5L336.5 289.6L336.8 290.8L337.2 289.1L338.2 286.0L338.6 287.4L338.9 289.5L339.3 291.4L339.6 284.1L340.7 313.0L341.0 305.0L341.4 297.0L341.7 298.0L342.1 295.6L343.2 293.4L343.5 293.4L343.9 290.6L344.2 288.8L344.6 307.9L346.0 318.3L346.3 332.2L346.7 328.3L347.0 325.3L348.1 325.1L348.4 327.9L348.8 329.0L349.1 334.5L349.5 339.0L350.6 346.7L350.9 351.3L351.3 347.6L351.6 314.3L352.0 309.8L353.0 301.5L353.4 300.5L353.7 295.1L354.1 293.1L354.4 290.6L355.5 285.1L355.8 276.7L356.2 271.0L356.5 272.1L356.9 270.7L358.0 270.1L358.3 267.8L358.7 272.0L359.0 275.5L359.4 276.9L360.4 290.4L360.8 285.1L361.1 285.6L361.5 286.4L361.8 287.2L362.9 309.4L363.2 316.8L363.6 322.7L364.0 323.1L364.3 323.4L365.4 315.4L365.7 316.8L366.1 311.9L366.4 305.1L366.8 299.6L367.8 287.3L368.2 285.4L368.5 284.7L368.9 278.0L369.2 274.2L370.3 272.8L370.7 276.3L371.0 278.2L371.4 282.8L371.7 280.1L372.8 272.3L373.1 270.7L373.5 309.6L374.2 307.2L375.2 303.3L375.6 302.6L375.9 304.8L376.3 302.1L376.6 301.7L377.7 303.6L378.1 300.9L378.4 303.0L378.8 301.8L379.1 299.6L380.2 297.0L380.5 296.5L380.9 295.9L381.2 298.3L381.6 298.1L382.6 302.4L383.0 299.9L383.3 298.7L383.7 292.3L385.1 294.1L385.5 306.8L385.8 302.3L386.2 303.7L387.6 303.2L387.9 293.9L388.3 295.1L388.6 293.0L389.0 293.5L390.0 295.6L390.4 294.7L390.8 295.2L391.1 296.1L391.5 294.8L392.9 287.4L393.2 284.7L393.6 282.9L393.9 285.2L395.0 287.7L395.3 289.2L395.7 295.0L396.0 299.0L396.4 300.8L397.5 304.0L397.8 294.9L398.2 286.7L398.5 281.1L398.9 280.0L399.9 277.2L400.3 278.8L400.6 282.4L401.0 279.6L401.3 275.9L402.7 281.3L403.1 283.2L403.4 281.5L403.8 285.6L404.9 286.8L405.2 281.5L405.6 285.5L405.9 287.6L406.3 294.5L407.3 304.6L407.7 311.2L408.0 311.0L408.4 304.9L408.7 293.0L409.8 288.0L410.1 282.7L410.5 279.0L410.8 271.8L411.2 269.9L412.3 273.1L412.6 272.2L413.0 275.2L413.3 280.5L413.7 282.7L414.7 283.5L415.1 278.3L415.4 278.1L415.8 269.9L416.1 268.7L417.2 265.2L417.5 260.1L417.9 260.6L418.3 253.4L419.7 248.0L420.0 301.9L420.4 295.4L420.7 294.4L421.1 292.9L422.1 292.1L422.5 287.6L422.8 287.7L423.2 287.7L423.5 290.2L424.6 286.2L425.0 284.7L425.3 288.9L425.7 288.9L426.0 286.6L427.1 284.0L427.4 282.4L427.8 280.8L428.1 280.9L428.5 277.8L429.5 285.4L429.9 284.5L430.2 281.5L430.6 299.6L430.9 311.3L432.0 321.5L432.4 322.7L432.7 319.1L433.1 315.1L433.4 311.0L434.5 314.3L434.8 313.3L435.2 308.4L435.5 303.8L435.9 303.2L436.9 301.5L437.3 300.6L437.6 299.0L438.0 298.0L438.4 297.4L439.8 298.3L440.1 296.8L440.5 293.8L440.8 295.0L441.9 294.0L442.2 298.9L442.6 300.0L442.9 297.5L443.3 297.1L444.3 302.3L444.7 303.9L445.0 302.1L445.4 308.5L445.8 309.0L446.8 301.7L447.2 296.1L447.5 292.0L447.9 289.8L448.2 291.6L449.3 284.8L449.6 278.7L450.0 277.6L450.3 272.5L450.7 274.3L452.1 272.0L452.5 276.7L452.8 275.4L453.2 296.8L454.2 301.3L454.6 305.8L454.9 307.6L455.3 315.0L455.6 313.3L456.7 307.5L457.0 298.0L457.4 290.1L457.7 289.2L458.1 289.5L459.2 289.5L459.5 291.7L459.9 295.6L460.2 289.8L460.6 290.6L461.6 294.4L462.0 289.2L462.3 290.1L462.7 287.0L463.0 286.2L464.1 287.6L464.4 295.6L464.8 296.6L465.1 295.2L465.5 292.8L466.6 287.8L466.9 289.3L467.3 293.1L467.6 292.4L468.0 294.0L469.0 289.0L469.4 287.9L469.7 285.4L470.1 283.4L470.4 281.3L471.5 280.2L471.8 277.2L472.2 279.5L472.6 279.4L472.9 277.4L474.3 282.7L474.7 285.9L475.0 283.2L475.4 293.6L476.4 294.9L476.8 292.6L477.1 294.5L477.5 301.0L477.8 304.0L478.9 308.5L479.3 311.9L479.6 306.1L480.0 299.3L480.3 304.5L481.4 316.3L481.7 319.2L482.1 319.6L482.4 324.6L482.8 323.0L483.8 319.6L484.2 317.4L484.5 314.9L484.9 318.3L485.2 319.4L486.3 324.2L486.7 296.4L487.0 294.4L487.4 281.3L487.7 275.3L488.8 272.6L489.1 266.3L489.5 263.4L489.8 260.8L490.2 261.7L491.2 257.8L491.6 256.1L491.9 260.4L492.3 252.1L492.6 250.5L493.7 248.8L494.1 245.6L494.4 240.1L494.8 236.4L495.1 233.0L496.2 232.2L496.5 235.4L496.9 242.6L497.2 291.7L497.6 286.3L498.6 283.0L499.0 284.0L499.3 282.6L499.7 285.0L500.1 285.2L501.1 288.5L501.5 283.1L501.8 285.4L502.5 302.4L503.6 313.7L503.9 317.2L504.3 314.6L504.6 321.3L505.0 313.8L506.0 295.5L506.4 286.6L506.8 290.3L507.1 292.7L507.5 291.7L508.5 291.1L508.9 291.0L509.2 292.8L509.6 293.2L509.9 292.3L511.0 277.5L511.3 270.9L511.7 265.9L512.0 266.0L513.5 267.0L513.8 266.5L514.2 262.2L514.5 265.7L514.9 261.1L515.9 259.7L516.3 262.1L516.6 281.3L517.0 281.9L517.3 285.5L518.4 285.8L518.7 280.9L519.1 277.4L519.4 289.1L519.8 288.4L521.2 300.9L521.6 306.9L521.9 313.1L522.3 321.1L523.3 321.5L523.7 326.2L524.0 328.0L524.4 330.6L524.7 324.5L525.8 315.3L526.1 311.4L526.5 305.0L526.9 323.3L527.2 320.7L528.3 316.5L528.6 311.8L529.0 306.6L529.3 322.1L529.7 337.8L530.7 341.4L531.1 328.5L531.4 288.7L531.8 300.4L532.1 304.4L533.5 309.3L533.9 315.7L534.3 313.0L534.6 304.4L535.7 306.6L536.0 315.2L536.4 306.8L536.7 310.9L537.1 316.3L538.1 330.4L538.5 334.4L538.8 326.4L539.2 330.1L539.5 338.3L540.6 343.7L541.0 334.2L541.3 317.9L541.7 307.7L542.0 298.1L543.1 292.3L543.4 284.2L543.8 293.9L544.1 283.4L544.5 279.5L545.5 273.8L545.9 263.7L546.2 269.3L546.6 282.6L546.9 279.8L548.0 273.0L548.4 283.9L548.7 292.1L549.1 288.7L549.4 291.0L550.5 305.0L550.8 308.1L551.2 298.8L551.5 308.9L552.9 309.1L553.3 296.0L553.6 296.5L554.0 290.3L554.4 304.6L555.4 303.3L555.8 314.1L556.1 314.9L556.5 307.0L556.8 314.6L557.9 320.9L558.2 321.0L558.6 309.1L558.9 320.6L559.3 329.5L560.3 335.8L560.7 338.3L561.1 340.3L561.4 343.0L561.8 346.2L562.8 349.9L563.2 347.9L563.5 358.5L563.9 362.7L564.2 370.0L565.3 298.2L565.6 302.8L566.0 298.6L566.3 286.4L566.7 269.4L568.1 274.3L568.5 280.0L568.8 266.6L569.2 279.1L570.2 277.1L570.6 269.9L570.9 278.3L571.3 296.4L571.6 316.7L572.7 329.5L573.0 340.2L573.4 335.7L573.7 350.2L574.1 352.6L575.5 343.6L575.9 345.4L576.2 338.8L576.6 300.8L577.6 302.9L578.0 312.9L578.3 314.0L578.7 318.3L579.0 314.9L580.4 314.9L580.8 313.8L581.1 305.8L581.5 306.9L582.6 314.4L582.9 320.2L583.3 323.4L583.6 325.9L584.0 314.8L585.0 320.7L585.4 301.7L585.7 297.4L586.1 290.1L586.4 297.1L587.5 296.1L587.8 304.8L588.2 301.4L588.6 293.6L588.9 283.5L590.0 285.7L590.3 290.8L590.7 279.4L591.0 280.0L591.4 281.4L592.4 282.4L592.8 285.8L593.1 269.4L593.5 269.9L593.8 256.2L594.9 253.0L595.3 251.5L595.6 257.4L596.0 255.5L596.3 265.8L597.4 282.9L597.7 284.6L598.1 282.4L598.4 271.5L598.8 298.5L599.8 302.7L600.2 308.9L600.5 313.2L600.9 312.6L601.2 318.2L602.7 320.7L603.0 313.1L603.4 310.0L603.7 300.7L604.8 293.3L605.1 307.9L605.5 321.4L605.8 328.5L606.2 333.3L607.2 330.6L607.6 338.0L607.9 347.7L608.3 353.2L608.7 361.2L609.7 367.2L610.1 379.1L610.4 301.3L610.8 310.0L611.1 315.0L612.2 308.1L612.5 292.7L612.9 294.5L613.2 301.1L613.6 315.7L614.6 319.6L615.0 323.0L615.4 325.4L615.7 315.4L616.1 327.4L617.1 315.6L617.5 309.1L617.8 313.8L618.2 319.3L618.5 303.7L619.6 295.4L619.9 283.8L620.3 289.0L620.6 293.6L621.0 301.7L622.0 306.1L622.4 308.7L622.8 320.0L623.1 324.2L623.5 320.7L624.5 317.4L624.9 315.4L625.2 325.7L625.6 318.0L625.9 307.8L627.0 295.7L627.3 289.4L627.7 295.6L628.0 297.9L628.4 294.6L629.5 297.5L629.8 287.3L630.2 283.0L630.9 283.2L631.9 294.8L632.3 296.0L632.6 301.2L633.0 302.0L633.3 303.0L634.4 314.7L634.7 323.0L635.1 324.5L635.4 321.2L635.8 325.7L636.9 317.9L637.2 313.4L637.6 317.9L637.9 333.4L638.3 339.8L639.3 344.5L639.7 345.3L640.0 339.0L640.4 347.8L640.7 345.7L642.1 349.1L642.5 357.3L642.9 346.7L643.2 348.5L644.6 305.3L645.0 300.7L645.3 308.4L645.7 293.8L646.7 294.5L647.1 289.8L647.4 280.5L647.8 278.1L648.1 275.1L649.6 276.7L649.9 288.3L650.3 293.9L650.6 280.1L651.7 271.3L652.0 271.8L652.4 272.0L652.7 263.8L653.1 261.7L654.1 271.7L654.5 260.6L654.8 252.7L655.2 241.2"/>
<path class="ser" stroke="#d62728" d="M70.6 327.1L71.7 330.1L72.0 329.5L72.4 329.7L72.7 332.0L73.1 332.2L74.1 329.7L74.5 328.3L74.8 328.5L75.2 330.2L75.5 328.4L76.6 335.2L76.9 334.4L77.3 336.3L77.7 335.4L78.0 336.7L79.1 333.7L79.4 330.4L79.8 332.1L80.1 332.4L80.5 335.0L81.5 326.2L81.9 325.7L82.2 325.4L82.6 328.0L82.9 326.9L84.0 333.5L84.4 335.7L84.7 336.5L85.1 336.5L85.4 337.3L86.8 334.3L87.2 332.6L87.5 330.1L87.9 331.0L88.9 331.8L89.3 332.4L89.6 332.3L90.0 333.5L90.3 334.0L91.4 335.0L91.8 336.4L92.1 338.1L92.5 324.9L92.8 323.0L93.9 323.0L94.2 321.5L94.6 320.5L94.9 319.8L95.3 321.9L96.3 323.9L96.7 323.0L97.0 324.5L97.4 319.4L97.7 316.3L98.8 316.6L99.2 315.2L99.5 297.5L99.9 286.9L100.2 294.0L101.3 290.4L101.6 302.0L102.0 301.5L102.3 294.4L102.7 293.3L103.7 327.7L104.1 325.0L104.4 309.3L104.8 318.7L105.2 309.9L106.2 306.5L106.6 314.4L106.9 319.9L107.3 325.1L107.6 322.0L108.7 324.8L109.0 328.0L109.4 339.0L109.7 337.8L110.1 332.9L111.1 322.6L111.5 321.8L111.9 318.1L112.2 323.3L112.6 324.5L113.6 316.0L114.0 306.8L114.3 329.7L115.0 326.7L116.1 334.0L116.4 335.6L116.8 346.1L117.1 345.4L117.5 349.0L118.6 353.7L118.9 339.3L119.6 338.6L120.0 327.0L121.0 327.9L121.4 327.8L121.7 330.4L122.1 330.4L122.4 320.8L123.5 310.7L123.8 310.7L124.2 303.3L124.5 295.8L124.9 286.4L126.0 274.0L126.7 331.8L127.0 335.3L127.4 335.0L128.4 338.6L129.1 339.3L129.5 329.1L129.8 343.2L130.9 346.1L131.2 349.8L131.6 351.7L131.9 353.7L132.3 354.1L133.4 352.9L133.7 357.0L134.1 358.4L134.4 361.5L134.8 365.7L136.2 362.7L136.5 364.3L136.9 365.6L137.2 370.1L138.3 366.7L138.6 330.2L139.0 336.4L139.4 341.3L139.7 333.7L140.8 337.3L141.1 341.2L141.5 343.5L141.8 343.3L142.2 345.7L143.2 345.1L143.6 345.8L143.9 346.1L144.3 347.5L144.6 347.7L146.1 352.4L146.4 350.9L146.8 352.7L147.1 355.1L148.2 357.0L148.5 356.3L148.9 358.6L149.2 359.0L149.6 327.3L150.6 328.9L151.0 330.4L151.3 326.4L151.7 323.8L152.0 320.5L153.1 319.6L153.5 323.5L153.8 323.8L154.2 325.2L154.5 325.7L155.6 328.0L155.9 327.6L156.3 327.5L156.6 329.3L157.0 330.9L158.0 333.6L158.4 332.4L158.7 332.4L159.1 332.8L159.5 335.2L160.5 337.7L160.9 326.1L161.2 327.9L161.6 330.1L161.9 331.2L163.0 332.5L163.3 330.8L163.7 331.2L164.0 333.0L164.4 334.6L165.4 335.7L165.8 335.9L166.2 334.0L166.5 336.2L167.9 338.0L168.3 337.5L168.6 337.3L169.0 338.7L169.3 338.2L170.4 341.3L170.7 340.4L171.1 340.5L171.4 340.4L171.8 324.6L172.9 323.6L173.2 319.0L173.6 316.2L173.9 311.7L174.3 307.0L175.3 298.9L175.7 301.6L176.0 303.0L176.4 304.8L176.7 307.3L177.8 303.2L178.1 302.8L178.5 303.5L178.8 302.7L179.2 302.7L180.6 296.9L181.0 292.5L181.3 294.2L181.7 289.6L182.7 285.5L183.1 296.7L183.4 326.8L183.8 329.3L184.1 334.9L185.2 337.1L185.5 339.5L185.9 341.0L186.2 338.7L186.6 342.1L187.7 342.4L188.0 341.1L188.4 339.8L188.7 342.8L189.1 343.4L190.1 342.4L190.5 346.4L190.8 347.3L191.2 348.4L191.5 350.3L192.6 353.9L192.9 354.0L193.3 356.9L194.0 355.3L195.1 324.0L195.4 324.1L195.8 324.2L196.1 322.4L196.5 324.6L197.5 326.0L197.9 327.5L198.2 325.8L198.6 325.1L198.9 325.2L200.0 326.6L200.4 327.4L200.7 328.9L201.1 327.6L201.4 330.2L202.5 330.7L202.8 327.3L203.2 327.3L203.5 320.9L203.9 313.0L204.9 299.3L205.3 304.0L205.6 325.8L206.0 324.6L206.3 323.1L207.4 325.9L207.8 320.7L208.1 325.6L208.5 331.6L208.8 330.4L209.9 322.0L210.2 320.3L210.6 324.0L210.9 329.1L211.3 330.3L212.3 327.0L212.7 321.7L213.0 321.8L213.4 324.6L213.8 330.9L215.2 337.7L215.5 338.3L215.9 339.5L216.2 342.8L217.3 323.8L217.6 323.3L218.0 324.3L218.3 323.9L218.7 324.7L219.7 326.8L220.1 328.1L220.4 328.1L220.8 328.3L221.2 326.7L222.2 326.9L222.6 326.4L222.9 323.9L223.3 321.9L223.6 323.6L224.7 320.1L225.0 316.0L225.4 311.9L225.7 310.1L226.1 310.5L227.1 310.7L227.5 313.0L227.9 325.1L228.2 320.6L228.6 315.2L229.6 326.1L230.0 336.6L230.3 336.6L230.7 336.5L231.0 337.9L232.1 337.8L232.4 340.6L232.8 340.8L233.1 340.7L233.5 342.0L234.6 344.1L234.9 345.1L235.3 347.0L235.6 345.3L236.0 346.4L237.0 351.8L237.4 352.4L237.7 353.9L238.1 356.2L238.4 321.8L239.5 320.5L239.8 320.3L240.2 321.6L240.5 322.4L240.9 322.5L242.0 322.6L242.3 321.8L242.7 321.2L243.0 325.1L243.4 325.9L244.4 327.6L244.8 327.6L245.1 327.3L245.8 330.0L246.9 326.9L247.2 325.0L247.6 324.3L248.0 328.0L248.3 329.2L249.4 326.6L249.7 327.8L250.1 321.0L250.4 326.2L250.8 326.2L251.8 330.4L252.2 330.7L252.5 330.4L252.9 333.0L253.2 336.0L254.3 336.6L254.7 336.4L255.4 339.6L255.7 339.6L256.8 336.0L257.1 337.9L257.8 343.0L258.2 338.7L259.2 340.7L259.6 339.0L259.9 342.0L260.3 346.2L260.6 344.3L261.7 348.6L262.1 318.3L262.4 323.0L262.8 328.9L263.1 329.4L264.5 326.7L264.9 328.5L265.2 328.3L265.6 326.6L266.6 319.3L267.0 315.6L267.3 316.6L267.7 313.3L268.0 310.9L269.1 323.4L269.5 325.8L269.8 329.5L270.2 329.3L270.5 330.8L271.6 331.0L271.9 334.3L272.3 337.1L272.6 336.4L273.0 316.4L274.4 314.6L274.7 317.6L275.1 315.1L275.5 308.6L276.5 287.5L276.9 269.1L277.2 266.8L277.6 241.1L277.9 236.4L279.0 261.9L279.3 245.6L279.7 269.5L280.0 249.5L280.4 239.8L281.4 197.4L281.8 222.8L282.2 196.3L282.5 147.4L282.9 190.7L283.9 129.6L284.3 156.4L284.6 320.8L285.0 322.7L285.3 307.3L286.4 296.6L286.7 329.0L287.1 332.4L287.4 339.6L287.8 338.9L288.9 342.3L289.2 343.3L289.6 337.5L289.9 343.5L290.3 341.7L291.3 350.0L291.7 352.1L292.0 348.6L292.4 345.9L293.8 351.0L294.1 339.9L294.5 351.4L294.8 349.4L295.2 335.4L296.3 321.4L296.6 307.1L297.0 318.2L297.3 318.4L297.7 325.2L298.7 331.3L299.1 329.8L299.4 340.0L299.8 337.5L300.1 326.4L301.2 328.7L301.5 333.1L301.9 330.3L302.3 336.1L302.6 344.2L303.7 344.9L304.0 335.4L304.4 326.3L304.7 332.6L305.1 334.7L306.1 351.6L306.5 345.8L306.8 321.9L307.2 318.1L307.5 319.3L309.0 325.8L309.3 333.0L309.7 332.4L310.0 334.9L311.1 337.1L311.4 341.1L311.8 347.2L312.1 346.4L312.5 355.7L313.5 358.8L313.9 358.6L314.2 358.3L314.6 349.7L314.9 337.0L316.0 341.9L316.4 352.6L316.7 350.6L317.1 351.0L317.4 347.9L318.5 318.1L318.8 320.4L319.2 306.7L319.5 313.0L319.9 299.8L320.9 308.0L321.3 316.6L321.6 319.7L322.0 322.4L323.4 330.9L323.8 325.4L324.1 330.0L324.5 327.1L324.8 333.1L325.9 328.0L326.2 335.8L326.6 341.3L326.9 339.6L327.3 341.4L328.3 346.6L328.7 347.6L329.0 351.1L329.4 316.7L329.8 313.6L330.8 317.1L331.2 312.5L331.5 318.6L331.9 317.4L332.2 324.2L333.3 330.8L333.6 331.9L334.0 333.7L334.3 332.5L334.7 337.0L335.7 340.3L336.1 343.7L336.5 346.5L336.8 346.1L337.2 348.1L338.2 351.4L338.6 350.5L338.9 348.8L339.3 346.9L339.6 354.3L340.7 314.4L341.0 322.8L341.4 330.4L341.7 329.9L342.1 332.4L343.2 334.5L343.5 334.9L343.9 337.6L344.2 339.5L344.6 322.4L346.0 312.1L346.3 296.6L346.7 301.7L347.0 305.3L348.1 305.7L348.4 302.9L348.8 301.9L349.1 296.3L349.5 291.9L350.6 284.2L350.9 279.7L351.3 283.5L351.6 316.1L352.0 321.1L353.0 329.0L353.4 330.4L353.7 335.1L354.1 337.1L354.4 339.4L355.5 343.5L355.8 348.3L356.2 351.3L356.5 352.0L356.9 353.5L358.0 354.9L358.3 356.7L358.7 356.6L359.0 356.2L359.4 356.6L360.4 346.9L360.8 352.2L361.1 352.2L361.5 351.5L361.8 350.8L362.9 311.3L363.2 301.1L363.6 290.8L364.0 292.3L364.3 294.0L365.4 308.9L365.7 308.1L366.1 315.0L366.4 322.4L366.8 327.9L367.8 337.9L368.2 340.1L368.5 341.5L368.9 346.7L369.2 350.1L370.3 352.1L370.7 351.4L371.0 351.2L371.4 348.4L371.7 351.6L372.8 359.5L373.1 361.5L373.5 310.9L374.2 313.7L375.2 318.0L375.6 319.0L375.9 317.1L376.3 320.0L376.6 320.7L377.7 319.0L378.1 321.9L378.4 320.0L378.8 321.3L379.1 323.7L380.2 326.3L380.5 326.9L380.9 327.6L381.2 325.2L381.6 325.5L382.6 321.1L383.0 323.7L383.3 324.8L383.7 331.2L385.1 329.5L385.5 308.4L385.8 313.5L386.2 312.5L387.6 313.5L387.9 322.7L388.3 322.1L388.6 324.4L389.0 324.3L390.0 322.7L390.4 323.9L390.8 323.7L391.1 323.1L391.5 324.6L392.9 331.9L393.2 334.6L393.6 336.5L393.9 334.5L395.0 332.2L395.3 330.7L395.7 324.9L396.0 320.9L396.4 319.2L397.5 305.9L397.8 315.3L398.2 322.9L398.5 327.7L398.9 329.2L399.9 331.9L400.3 331.5L400.6 329.7L401.0 332.5L401.3 335.8L402.7 332.6L403.1 331.6L403.4 333.6L403.8 330.6L404.9 329.9L405.2 335.1L405.6 331.8L405.9 329.9L406.3 323.1L407.3 313.0L407.7 306.5L408.0 306.6L408.4 306.8L408.7 318.8L409.8 323.5L410.1 328.2L410.5 331.5L410.8 336.9L411.2 338.7L412.3 337.6L412.6 338.9L413.0 337.6L413.3 334.4L413.7 333.2L414.7 333.0L415.1 337.9L415.4 338.6L415.8 346.0L416.1 347.7L417.2 351.3L417.5 356.3L417.9 357.0L418.3 364.3L419.7 370.4L420.0 302.7L420.4 309.6L420.7 310.7L421.1 312.4L422.1 313.3L422.5 317.8L422.8 317.9L423.2 318.0L423.5 315.5L424.6 319.6L425.0 321.1L425.3 317.0L425.7 317.0L426.0 319.3L427.1 321.9L427.4 323.5L427.8 325.1L428.1 325.0L428.5 328.1L429.5 320.5L429.9 321.4L430.2 324.4L430.6 300.5L430.9 287.6L432.0 275.1L432.4 274.1L432.7 279.3L433.1 284.5L433.4 289.4L434.5 286.0L434.8 287.3L435.2 292.7L435.5 297.5L435.9 298.2L436.9 299.9L437.3 300.9L437.6 302.4L438.0 303.4L438.4 304.1L439.8 303.1L440.1 304.7L440.5 307.7L440.8 306.5L441.9 307.4L442.2 300.0L442.6 299.0L442.9 301.9L443.3 302.5L444.3 297.2L444.7 295.7L445.0 297.8L445.4 291.2L445.8 290.8L446.8 298.7L447.2 304.4L447.5 308.5L447.9 310.8L448.2 309.0L449.3 315.9L449.6 321.9L450.0 323.0L450.3 328.1L450.7 326.3L452.1 328.7L452.5 323.9L452.8 325.3L453.2 297.6L454.2 292.9L454.6 288.2L454.9 286.4L455.3 278.2L455.6 280.5L456.7 287.1L457.0 297.1L457.4 305.1L457.7 306.1L458.1 305.8L459.2 305.8L459.5 303.7L459.9 299.8L460.2 305.6L460.6 304.7L461.6 301.0L462.0 306.2L462.3 305.3L462.7 308.4L463.0 309.2L464.1 307.7L464.4 296.3L464.8 295.4L465.1 297.0L465.5 299.7L466.6 304.8L466.9 303.3L467.3 299.6L467.6 300.4L468.0 298.8L469.0 303.9L469.4 305.0L469.7 307.6L470.1 309.6L470.4 311.7L471.5 312.7L471.8 315.7L472.2 313.4L472.6 313.6L472.9 315.6L474.3 310.3L474.7 307.0L475.0 309.7L475.4 294.9L476.4 293.8L476.8 296.5L477.1 294.9L477.5 287.9L477.8 284.9L478.9 280.2L479.3 276.5L479.6 283.5L480.0 291.1L480.3 285.8L481.4 273.3L481.7 270.4L482.1 270.3L482.4 265.3L482.8 267.4L483.8 271.1L484.2 273.5L484.5 276.0L484.9 272.6L485.2 271.6L486.3 266.7L486.7 297.7L487.0 300.1L487.4 313.3L487.7 319.1L488.8 321.8L489.1 327.6L489.5 330.4L489.8 333.0L490.2 332.5L491.2 336.2L491.6 338.0L491.9 334.7L492.3 342.1L492.6 344.0L493.7 345.9L494.1 349.1L494.4 354.1L494.8 357.7L495.1 361.2L496.2 363.0L496.5 360.9L496.9 353.9L497.2 292.5L497.6 298.1L498.6 301.6L499.0 300.7L499.3 302.2L499.7 299.9L500.1 299.8L501.1 296.6L501.5 302.0L501.8 299.7L502.5 282.6L503.6 271.0L503.9 267.5L504.3 270.3L504.6 263.6L505.0 271.4L506.0 289.8L506.4 298.6L506.8 295.0L507.1 292.6L507.5 293.6L508.5 294.1L508.9 292.3L509.2 290.6L509.6 290.5L509.9 291.9L511.0 307.0L511.3 313.5L511.7 318.4L512.0 318.5L513.5 317.8L513.8 318.5L514.2 322.7L514.5 319.7L514.9 324.2L515.9 325.7L516.3 323.5L516.6 304.5L517.0 303.9L517.3 300.3L518.4 300.0L518.7 304.9L519.1 308.4L519.4 296.7L519.8 290.4L521.2 275.1L521.6 267.1L521.9 258.0L522.3 242.3L523.3 244.6L523.7 234.5L524.0 233.4L524.4 229.1L524.7 248.9L525.8 264.6L526.1 270.5L526.5 278.4L526.9 257.4L527.2 261.7L528.3 267.2L528.6 272.6L529.0 278.1L529.3 262.5L529.7 246.5L530.7 243.3L531.1 256.3L531.4 291.2L531.8 274.9L532.1 269.7L533.5 262.1L533.9 247.9L534.3 259.7L534.6 277.5L535.7 275.7L536.0 263.4L536.4 278.6L536.7 274.3L537.1 268.2L538.1 244.3L538.5 238.5L538.8 258.8L539.2 255.4L539.5 244.9L540.6 239.1L541.0 255.8L541.3 273.9L541.7 284.0L542.0 293.6L543.1 294.3L543.4 303.1L543.8 293.8L544.1 305.0L544.5 309.1L545.5 314.7L545.9 323.7L546.2 319.6L546.6 308.0L546.9 311.1L548.0 317.7L548.4 307.7L548.7 299.8L549.1 303.4L549.4 301.2L550.5 287.1L550.8 284.1L551.2 293.5L551.5 283.4L552.9 283.2L553.3 296.3L553.6 295.8L554.0 292.8L554.4 271.7L555.4 276.3L555.8 254.7L556.1 256.6L556.5 275.7L556.8 263.9L557.9 251.9L558.2 255.7L558.6 279.0L558.9 262.8L559.3 246.3L560.3 221.6L560.7 223.5L561.1 211.1L561.4 210.2L561.8 227.8L562.8 224.8L563.2 240.1L563.5 222.4L563.9 204.7L564.2 204.7L565.3 300.5L565.6 295.2L566.0 302.1L566.3 314.1L566.7 326.9L568.1 324.9L568.5 321.9L568.8 331.6L569.2 324.5L570.2 326.8L570.6 332.8L570.9 327.7L571.3 312.5L571.6 291.4L572.7 275.9L573.0 260.4L573.4 270.7L573.7 247.6L574.1 249.1L575.5 266.0L575.9 265.1L576.2 271.8L576.6 302.9L577.6 301.2L578.0 287.6L578.3 287.3L578.7 281.4L579.0 288.9L580.4 290.2L580.8 293.0L581.1 303.7L581.5 303.2L582.6 295.1L582.9 288.8L583.3 285.7L583.6 283.5L584.0 297.2L585.0 291.2L585.4 311.1L585.7 315.5L586.1 322.8L586.4 315.9L587.5 316.8L587.8 308.2L588.2 303.1L588.6 311.4L588.9 321.0L590.0 319.6L590.3 315.3L590.7 325.9L591.0 325.8L591.4 325.1L592.4 324.5L592.8 321.8L593.1 336.4L593.5 336.4L593.8 347.3L594.9 350.2L595.3 352.1L595.6 348.9L596.0 351.1L596.3 342.6L597.4 325.8L597.7 324.1L598.1 326.4L598.4 337.3L598.8 300.6L599.8 296.2L600.2 288.4L600.5 283.0L600.9 285.4L601.2 277.7L602.7 274.9L603.0 288.4L603.4 293.3L603.7 304.6L604.8 312.4L605.1 297.8L605.5 282.6L605.8 274.2L606.2 268.9L607.2 274.0L607.6 265.7L607.9 253.3L608.3 247.3L608.7 235.1L609.7 227.9L610.1 226.4L610.4 303.5L610.8 290.5L611.1 281.5L612.2 298.1L612.5 315.8L612.9 315.4L613.2 310.6L613.6 293.1L614.6 288.4L615.0 284.6L615.4 282.6L615.7 299.9L616.1 284.1L617.1 301.9L617.5 309.8L617.8 305.4L618.2 300.1L618.5 316.4L619.6 324.7L619.9 336.3L620.3 331.2L620.6 326.7L621.0 303.7L622.0 298.9L622.4 296.3L622.8 279.1L623.1 271.9L623.5 281.5L624.5 288.3L624.9 292.3L625.2 277.8L625.6 290.8L625.9 303.7L627.0 316.3L627.3 322.7L627.7 317.1L628.0 315.1L628.4 318.5L629.5 315.8L629.8 326.0L630.2 330.3L630.9 330.2L631.9 318.5L632.3 317.4L632.6 302.6L633.0 302.1L633.3 301.3L634.4 287.9L634.7 277.1L635.1 275.8L635.4 281.2L635.8 275.8L636.9 286.5L637.2 292.0L637.6 287.3L637.9 268.7L638.3 260.4L639.3 254.0L639.7 254.8L640.0 265.3L640.4 254.8L640.7 259.1L642.1 256.1L642.5 247.5L642.9 259.9L643.2 258.2L644.6 306.9L645.0 312.0L645.3 304.3L645.7 319.5L646.7 319.2L647.1 324.0L647.4 332.2L647.8 334.6L648.1 337.4L649.6 336.7L649.9 326.9L650.3 321.8L650.6 335.0L651.7 343.0L652.0 343.0L652.4 343.2L652.7 350.9L653.1 353.2L654.1 344.5L654.5 355.4L654.8 363.3L655.2 375.1"/>
<path class="ser" stroke="#9467bd" d="M70.6 274.1L71.7 277.1L72.0 276.5L72.4 276.7L72.7 279.0L73.1 279.2L74.1 276.8L74.5 275.3L74.8 275.5L75.2 277.2L75.5 275.4L76.6 282.2L76.9 281.4L77.3 283.3L77.7 282.4L78.0 283.7L79.1 280.8L79.4 277.4L79.8 279.1L80.1 279.5L80.5 282.1L81.5 272.3L81.9 271.8L82.2 271.5L82.6 274.1L82.9 273.0L84.0 279.6L84.4 281.8L84.7 282.6L85.1 282.6L85.4 283.4L86.8 280.4L87.2 278.7L87.5 276.2L87.9 277.1L88.9 277.9L89.3 278.5L89.6 278.4L90.0 279.6L90.3 280.2L91.4 281.1L91.8 282.5L92.1 284.2L92.5 269.8L92.8 267.9L93.9 267.8L94.2 266.4L94.6 265.4L94.9 264.7L95.3 266.8L96.3 268.8L96.7 267.9L97.0 269.4L97.4 264.3L97.7 261.2L98.8 261.5L99.2 260.1L99.5 242.4L99.9 231.8L100.2 238.9L101.3 235.2L101.6 246.8L102.0 246.4L102.3 239.3L102.7 238.2L103.7 276.4L104.1 273.6L104.4 257.6L104.8 267.0L105.2 258.1L106.2 254.8L106.6 262.7L106.9 268.1L107.3 273.4L107.6 270.2L108.7 273.0L109.0 276.2L109.4 287.3L109.7 286.0L110.1 281.1L111.1 270.7L111.5 270.0L111.9 266.2L112.2 271.5L112.6 272.6L113.6 264.2L114.0 255.0L114.3 280.4L115.0 277.2L116.1 284.7L116.4 286.4L116.8 298.1L117.1 296.9L117.5 301.1L118.6 306.7L118.9 289.8L119.6 289.0L120.0 277.2L121.0 278.1L121.4 277.9L121.7 280.6L122.1 280.6L122.4 271.0L123.5 260.8L123.8 260.8L124.2 253.5L124.5 246.0L124.9 236.6L126.0 224.1L126.7 287.2L127.0 291.1L127.4 290.6L128.4 294.5L129.1 295.1L129.5 283.5L129.8 299.2L130.9 302.6L131.2 307.1L131.6 309.2L131.9 311.5L132.3 311.3L133.4 308.8L133.7 313.9L134.1 315.1L134.4 318.8L134.8 325.4L136.2 318.3L136.5 319.4L136.9 319.9L137.2 324.3L138.3 320.3L138.6 280.8L139.0 287.2L139.4 292.4L139.7 284.2L140.8 288.0L141.1 292.0L141.5 294.4L141.8 294.0L142.2 296.5L143.2 295.8L143.6 296.4L143.9 296.6L144.3 298.0L144.6 298.2L146.1 302.9L146.4 301.3L146.8 303.1L147.1 305.5L148.2 307.4L148.5 306.7L148.9 309.0L149.2 309.3L149.6 274.6L150.6 276.2L151.0 277.8L151.3 273.7L151.7 271.1L152.0 267.7L153.1 266.8L153.5 270.8L153.8 271.0L154.2 272.4L154.5 273.0L155.6 275.3L155.9 274.8L156.3 274.7L156.6 276.5L157.0 278.2L158.0 280.9L158.4 279.7L158.7 279.6L159.1 280.1L159.5 282.5L160.5 284.9L160.9 272.2L161.2 274.0L161.6 276.2L161.9 277.3L163.0 278.6L163.3 276.9L163.7 277.3L164.0 279.1L164.4 280.7L165.4 281.8L165.8 282.0L166.2 280.1L166.5 282.3L167.9 284.1L168.3 283.6L168.6 283.4L169.0 284.8L169.3 284.3L170.4 287.4L170.7 286.5L171.1 286.6L171.4 286.5L171.8 269.2L172.9 268.2L173.2 263.6L173.6 260.8L173.9 256.3L174.3 251.6L175.3 243.5L175.7 246.2L176.0 247.6L176.4 249.4L176.7 251.9L177.8 247.8L178.1 247.4L178.5 248.1L178.8 247.3L179.2 247.3L180.6 241.5L181.0 237.1L181.3 238.7L181.7 234.2L182.7 230.1L183.1 241.3L183.4 273.8L183.8 276.2L184.1 282.0L185.2 284.2L185.5 286.6L185.9 288.1L186.2 285.7L186.6 289.2L187.7 289.4L188.0 288.0L188.4 286.7L188.7 289.7L189.1 290.2L190.1 289.2L190.5 293.3L190.8 294.2L191.2 295.2L191.5 297.1L192.6 300.8L192.9 300.9L193.3 303.8L194.0 302.2L195.1 268.1L195.4 268.1L195.8 268.3L196.1 266.4L196.5 268.6L197.5 270.0L197.9 271.5L198.2 269.8L198.6 269.1L198.9 269.3L200.0 270.6L200.4 271.5L200.7 273.0L201.1 271.6L201.4 274.3L202.5 274.7L202.8 271.4L203.2 271.3L203.5 264.9L203.9 257.0L204.9 243.3L205.3 248.1L205.6 271.6L206.0 270.3L206.3 268.8L207.4 271.7L207.8 266.5L208.1 271.3L208.5 277.4L208.8 276.1L209.9 267.8L210.2 266.1L210.6 269.8L210.9 274.9L211.3 276.0L212.3 272.7L212.7 267.5L213.0 267.5L213.4 270.4L213.8 276.7L215.2 283.5L215.5 284.0L215.9 285.3L216.2 288.5L217.3 268.0L217.6 267.5L218.0 268.4L218.3 268.0L218.7 268.8L219.7 271.0L220.1 272.2L220.4 272.2L220.8 272.3L221.2 270.7L222.2 270.9L222.6 270.4L222.9 267.9L223.3 265.9L223.6 267.6L224.7 264.1L225.0 260.0L225.4 255.9L225.7 254.1L226.1 254.5L227.1 254.7L227.5 257.0L227.9 270.3L228.2 265.7L228.6 260.3L229.6 271.2L230.0 281.8L230.3 281.8L230.7 281.7L231.0 283.1L232.1 283.0L232.4 285.8L232.8 285.9L233.1 285.8L233.5 287.1L234.6 289.3L234.9 290.3L235.3 292.1L235.6 290.4L236.0 291.5L237.0 296.9L237.4 297.6L237.7 299.0L238.1 301.3L238.4 263.7L239.5 262.3L239.8 262.1L240.2 263.5L240.5 264.3L240.9 264.4L242.0 264.4L242.3 263.6L242.7 263.0L243.0 266.9L243.4 267.7L244.4 269.5L244.8 269.4L245.1 269.1L245.8 271.8L246.9 268.7L247.2 266.8L247.6 266.1L248.0 269.9L248.3 271.0L249.4 268.5L249.7 269.6L250.1 261.9L250.4 267.2L250.8 267.2L251.8 271.3L252.2 271.7L252.5 271.3L252.9 273.9L253.2 277.0L254.3 277.5L254.7 277.3L255.4 280.5L255.7 280.5L256.8 277.0L257.1 278.8L257.8 283.9L258.2 279.6L259.2 281.7L259.6 280.0L259.9 283.0L260.3 287.1L260.6 285.2L261.7 289.6L262.1 256.6L262.4 261.3L262.8 267.2L263.1 267.7L264.5 265.0L264.9 266.7L265.2 266.5L265.6 264.9L266.6 257.5L267.0 253.9L267.3 254.9L267.7 251.6L268.0 249.1L269.1 261.7L269.5 264.0L269.8 267.8L270.2 267.6L270.5 269.1L271.6 269.3L271.9 272.6L272.3 275.3L272.6 274.7L273.0 252.9L274.4 251.0L274.7 254.0L275.1 251.6L275.5 245.0L276.5 224.0L276.9 205.5L277.2 203.3L277.6 177.5L277.9 172.8L279.0 198.4L279.3 182.0L279.7 205.9L280.0 186.0L280.4 176.2L281.4 133.9L281.8 159.3L282.2 132.8L282.5 83.9L282.9 127.1L283.9 66.0L284.3 92.9L284.6 286.8L285.0 288.9L285.3 270.1L286.4 257.7L286.7 296.2L287.1 301.2L287.4 323.2L287.8 312.2L288.9 324.7L289.2 319.9L289.6 302.3L289.9 312.2L290.3 306.1L291.3 334.3L291.7 334.7L292.0 346.9L292.4 352.2L293.8 351.7L294.1 360.4L294.5 358.5L294.8 363.4L295.2 379.6L296.3 273.5L296.6 257.5L297.0 269.2L297.3 269.0L297.7 276.3L298.7 284.0L299.1 281.2L299.4 295.5L299.8 290.4L300.1 275.4L301.2 277.6L301.5 282.3L301.9 278.6L302.3 284.8L302.6 294.0L303.7 294.0L304.0 282.7L304.4 273.3L304.7 279.5L305.1 281.6L306.1 298.5L306.5 292.7L306.8 268.2L307.2 263.9L307.5 265.1L309.0 272.0L309.3 280.3L309.7 279.2L310.0 281.8L311.1 284.0L311.4 288.7L311.8 296.6L312.1 294.6L312.5 309.9L313.5 317.1L313.9 312.4L314.2 309.3L314.6 295.3L314.9 281.2L316.0 286.1L316.4 297.0L316.7 294.8L317.1 295.2L317.4 292.0L318.5 262.7L318.8 265.2L319.2 250.0L319.5 256.4L319.9 242.3L320.9 250.5L321.3 259.4L321.6 262.4L322.0 265.0L323.4 274.4L323.8 267.9L324.1 272.6L324.5 269.2L324.8 275.4L325.9 269.7L326.2 277.6L326.6 283.3L326.9 281.2L327.3 282.9L328.3 288.0L328.7 288.9L329.0 292.5L329.4 258.3L329.8 254.7L330.8 258.2L331.2 253.1L331.5 259.4L331.9 257.8L332.2 265.1L333.3 272.5L333.6 273.3L334.0 275.1L334.3 273.2L334.7 278.1L335.7 281.5L336.1 285.0L336.5 287.9L336.8 286.7L337.2 288.4L338.2 291.6L338.6 290.1L338.9 288.0L339.3 286.1L339.6 293.4L340.7 251.0L341.0 260.1L341.4 268.8L341.7 267.9L342.1 270.5L343.2 272.8L343.5 272.9L343.9 275.8L344.2 277.6L344.6 258.3L346.0 247.6L346.3 232.1L346.7 237.2L347.0 240.8L348.1 241.1L348.4 238.4L348.8 237.4L349.1 231.8L349.5 227.4L350.6 219.6L350.9 215.2L351.3 218.9L351.6 257.9L352.0 263.7L353.0 273.4L353.4 274.7L353.7 280.7L354.1 283.0L354.4 285.7L355.5 291.4L355.8 299.9L356.2 305.6L356.5 304.6L356.9 306.0L358.0 306.8L358.3 309.0L358.7 304.9L359.0 301.4L359.4 300.0L360.4 286.5L360.8 291.8L361.1 291.3L361.5 290.5L361.8 289.7L362.9 252.0L363.2 240.4L363.6 229.2L364.0 230.5L364.3 231.9L365.4 247.3L365.7 246.1L366.1 253.2L366.4 261.4L366.8 267.6L367.8 280.6L368.2 282.6L368.5 283.4L368.9 290.2L369.2 294.0L370.3 295.4L370.7 292.0L371.0 290.0L371.4 285.4L371.7 288.2L372.8 295.9L373.1 297.5L373.5 243.5L374.2 246.3L375.2 250.9L375.6 251.8L375.9 249.6L376.3 252.6L376.6 253.2L377.7 251.2L378.1 254.1L378.4 252.1L378.8 253.3L379.1 255.7L380.2 258.2L380.5 258.7L380.9 259.4L381.2 257.0L381.6 257.2L382.6 252.9L383.0 255.4L383.3 256.6L383.7 263.0L385.1 261.2L385.5 239.9L385.8 245.3L386.2 244.0L387.6 244.9L387.9 255.0L388.3 254.0L388.6 256.3L389.0 255.9L390.0 253.8L390.4 254.9L390.8 254.4L391.1 253.6L391.5 255.0L392.9 262.4L393.2 265.1L393.6 266.9L393.9 264.6L395.0 262.1L395.3 260.6L395.7 254.8L396.0 250.8L396.4 249.1L397.5 237.6L397.8 248.5L398.2 257.9L398.5 264.1L398.9 265.4L399.9 268.5L400.3 267.0L400.6 263.4L401.0 266.5L401.3 270.3L402.7 265.0L403.1 263.1L403.4 264.8L403.8 260.7L404.9 259.6L405.2 264.9L405.6 260.9L405.9 258.8L406.3 251.9L407.3 241.8L407.7 235.2L408.0 235.4L408.4 238.3L408.7 252.3L409.8 258.0L410.1 263.8L410.5 267.8L410.8 275.3L411.2 277.2L412.3 274.2L412.6 275.2L413.0 272.1L413.3 266.9L413.7 264.7L414.7 263.9L415.1 269.2L415.4 269.4L415.8 277.6L416.1 278.8L417.2 282.3L417.5 287.4L417.9 287.0L418.3 294.2L419.7 299.5L420.0 225.9L420.4 232.8L420.7 233.9L421.1 235.6L422.1 236.5L422.5 241.0L422.8 241.0L423.2 241.1L423.5 238.5L424.6 242.6L425.0 244.1L425.3 239.9L425.7 239.9L426.0 242.2L427.1 244.8L427.4 246.4L427.8 248.1L428.1 247.9L428.5 251.0L429.5 243.4L429.9 244.3L430.2 247.3L430.6 221.4L430.9 208.4L432.0 195.8L432.4 194.8L432.7 200.0L433.1 205.2L433.4 210.1L434.5 206.7L434.8 208.0L435.2 213.4L435.5 218.2L435.9 218.9L436.9 220.6L437.3 221.5L437.6 223.1L438.0 224.1L438.4 224.8L439.8 223.8L440.1 225.4L440.5 228.4L440.8 227.2L441.9 228.1L442.2 220.6L442.6 219.5L442.9 222.4L443.3 223.0L444.3 217.6L444.7 216.0L445.0 218.1L445.4 211.5L445.8 211.1L446.8 218.9L447.2 224.7L447.5 228.8L447.9 231.1L448.2 229.3L449.3 236.1L449.6 242.2L450.0 243.3L450.3 248.4L450.7 246.6L452.1 248.9L452.5 244.2L452.8 245.5L453.2 215.3L454.2 210.6L454.6 205.9L454.9 204.1L455.3 195.9L455.6 198.1L456.7 204.7L457.0 214.8L457.4 222.8L457.7 223.8L458.1 223.5L459.2 223.5L459.5 221.3L459.9 217.4L460.2 223.2L460.6 222.4L461.6 218.6L462.0 223.8L462.3 222.9L462.7 226.0L463.0 226.8L464.1 225.4L464.4 212.9L464.8 211.9L465.1 213.6L465.5 216.2L466.6 221.4L466.9 219.8L467.3 216.1L467.6 216.8L468.0 215.3L469.0 220.4L469.4 221.4L469.7 224.0L470.1 226.0L470.4 228.1L471.5 229.1L471.8 232.2L472.2 229.9L472.6 230.0L472.9 232.0L474.3 226.7L474.7 223.4L475.0 226.2L475.4 210.9L476.4 209.7L476.8 212.4L477.1 210.6L477.5 203.6L477.8 200.4L478.9 195.7L479.3 192.0L479.6 199.0L480.0 206.6L480.3 201.2L481.4 188.7L481.7 185.8L482.1 185.8L482.4 180.7L482.8 182.8L483.8 186.5L484.2 188.9L484.5 191.5L484.9 188.0L485.2 187.0L486.3 182.1L486.7 216.4L487.0 218.8L487.4 232.8L487.7 239.0L488.8 241.8L489.1 248.2L489.5 251.2L489.8 253.8L490.2 252.9L491.2 256.8L491.6 258.5L491.9 254.2L492.3 262.5L492.6 264.2L493.7 265.9L494.1 269.1L494.4 274.5L494.8 278.3L495.1 281.7L496.2 282.4L496.5 279.2L496.9 272.1L497.2 205.2L497.6 210.9L498.6 214.4L499.0 213.5L499.3 214.9L499.7 212.5L500.1 212.4L501.1 209.2L501.5 214.6L501.8 212.3L502.5 195.1L503.6 183.6L503.9 180.1L504.3 182.9L504.6 176.2L505.0 184.0L506.0 202.3L506.4 211.2L506.8 207.5L507.1 205.1L507.5 206.2L508.5 206.7L508.9 205.8L509.2 204.0L509.6 203.7L509.9 205.1L511.0 220.7L511.3 227.5L511.7 232.7L512.0 232.5L513.5 231.6L513.8 232.1L514.2 236.4L514.5 233.0L514.9 237.6L515.9 238.9L516.3 236.5L516.6 217.3L517.0 216.8L517.3 213.2L518.4 212.9L518.7 217.7L519.1 221.3L519.4 209.6L519.8 204.7L521.2 188.5L521.6 180.2L521.9 170.8L522.3 154.8L523.3 157.1L523.7 146.9L524.0 145.8L524.4 141.5L524.7 161.2L525.8 177.0L526.1 182.9L526.5 190.7L526.9 169.7L527.2 174.0L528.3 179.5L528.6 184.9L529.0 190.4L529.3 174.8L529.7 158.8L530.7 155.6L531.1 168.6L531.4 211.6L531.8 193.8L532.1 188.0L533.5 179.7L533.9 164.9L534.3 176.7L534.6 194.8L535.7 192.7L536.0 180.0L536.4 195.2L536.7 190.7L537.1 184.3L538.1 160.2L538.5 154.4L538.8 174.7L539.2 171.3L539.5 160.8L540.6 154.9L541.0 171.7L541.3 189.7L541.7 199.9L542.0 209.5L543.1 212.3L543.4 221.8L543.8 211.3L544.1 223.4L544.5 227.7L545.5 233.9L545.9 244.4L546.2 238.8L546.6 225.2L546.9 228.2L548.0 235.2L548.4 224.3L548.7 216.0L549.1 219.6L549.4 217.3L550.5 203.2L550.8 200.2L551.2 209.6L551.5 199.5L552.9 199.3L553.3 212.5L553.6 211.9L554.0 214.7L554.4 191.8L555.4 196.3L555.8 173.6L556.1 175.3L556.5 194.6L556.8 182.2L557.9 169.8L558.2 173.6L558.6 197.1L558.9 180.5L559.3 163.8L560.3 139.0L560.7 140.9L561.1 128.5L561.4 127.5L561.8 145.2L562.8 142.2L563.2 157.4L563.5 139.7L563.9 122.1L564.2 122.1L565.3 230.4L565.6 224.3L566.0 231.4L566.3 246.2L566.7 264.7L568.1 260.0L568.5 254.3L568.8 268.5L569.2 255.9L570.2 258.2L570.6 265.7L570.9 257.3L571.3 238.9L571.6 216.9L572.7 201.2L573.0 185.6L573.4 196.0L573.7 172.8L574.1 174.3L575.5 191.3L575.9 190.3L576.2 197.1L576.6 232.9L577.6 230.6L578.0 216.0L578.3 215.4L578.7 209.0L579.0 216.5L580.4 217.7L580.8 220.3L581.1 231.2L581.5 230.5L582.6 222.0L582.9 215.4L583.3 212.2L583.6 210.0L584.0 223.7L585.0 217.7L585.4 237.6L585.7 241.9L586.1 249.3L586.4 242.3L587.5 243.3L587.8 234.6L588.2 228.7L588.6 237.7L588.9 248.6L590.0 246.6L590.3 241.3L590.7 253.3L591.0 252.8L591.4 251.5L592.4 250.5L592.8 247.1L593.1 263.7L593.5 263.1L593.8 276.8L594.9 280.0L595.3 281.5L595.6 275.7L596.0 277.6L596.3 267.3L597.4 250.1L597.7 248.4L598.1 250.7L598.4 261.6L598.8 227.4L599.8 222.3L600.2 213.9L600.5 208.0L600.9 210.3L601.2 202.2L602.7 199.2L603.0 212.7L603.4 217.6L603.7 229.1L604.8 237.2L605.1 221.8L605.5 206.4L605.8 197.9L606.2 192.6L607.2 197.7L607.6 189.4L607.9 177.0L608.3 171.0L608.7 158.8L609.7 151.6L610.1 150.1L610.4 239.8L610.8 225.1L611.1 215.0L612.2 232.3L612.5 253.4L612.9 252.0L613.2 245.0L613.6 225.3L614.6 220.0L615.0 215.7L615.4 213.5L615.7 231.0L616.1 214.6L617.1 232.5L617.5 240.4L617.8 235.7L618.2 230.2L618.5 246.6L619.6 254.8L619.9 266.5L620.3 261.2L620.6 256.7L621.0 233.3L622.0 227.8L622.4 224.8L622.8 206.8L623.1 199.3L623.5 208.9L624.5 215.6L624.9 219.6L625.2 204.7L625.6 217.8L625.9 230.8L627.0 243.9L627.3 250.4L627.7 244.2L628.0 242.0L628.4 245.4L629.5 242.5L629.8 252.7L630.2 257.0L630.9 256.8L631.9 245.2L632.3 244.0L632.6 226.6L633.0 226.0L633.3 225.1L634.4 211.4L634.7 200.5L635.1 199.1L635.4 204.6L635.8 199.1L636.9 209.9L637.2 215.3L637.6 210.6L637.9 192.0L638.3 183.7L639.3 177.3L639.7 178.1L640.0 188.6L640.4 178.1L640.7 182.4L642.1 179.4L642.5 170.7L642.9 183.2L643.2 181.5L644.6 236.2L645.0 241.7L645.3 233.2L645.7 249.6L646.7 249.0L647.1 254.1L647.4 263.7L647.8 266.1L648.1 269.1L649.6 267.6L649.9 256.0L650.3 250.3L650.6 264.2L651.7 273.1L652.0 272.5L652.4 272.3L652.7 280.6L653.1 282.7L654.1 272.7L654.5 283.8L654.8 291.7L655.2 303.2"/>
<path class="ser" stroke="#8c564b" d="M70.6 247.6L71.7 250.6L72.0 250.0L72.4 250.3L72.7 252.5L73.1 252.7L74.1 250.3L74.5 248.9L74.8 249.0L75.2 250.7L75.5 248.9L76.6 255.7L76.9 254.9L77.3 256.8L77.7 255.9L78.0 257.2L79.1 254.3L79.4 250.9L79.8 252.6L80.1 253.0L80.5 255.6L81.5 245.3L81.9 244.9L82.2 244.6L82.6 247.1L82.9 246.1L84.0 252.7L84.4 254.8L84.7 255.7L85.1 255.7L85.4 256.5L86.8 253.5L87.2 251.8L87.5 249.3L87.9 250.1L88.9 251.0L89.3 251.6L89.6 251.5L90.0 252.6L90.3 253.2L91.4 254.2L91.8 255.6L92.1 257.3L92.5 242.2L92.8 240.4L93.9 240.3L94.2 238.9L94.6 237.8L94.9 237.1L95.3 239.2L96.3 241.2L96.7 240.4L97.0 241.9L97.4 236.7L97.7 233.6L98.8 233.9L99.2 232.6L99.5 214.9L99.9 204.2L100.2 211.3L101.3 207.7L101.6 219.3L102.0 218.8L102.3 211.7L102.7 210.7L103.7 250.5L104.1 247.7L104.4 231.7L104.8 241.1L105.2 232.2L106.2 228.8L106.6 236.7L106.9 242.2L107.3 247.5L107.6 244.3L108.7 247.1L109.0 250.3L109.4 261.4L109.7 260.1L110.1 255.2L111.1 244.8L111.5 244.1L111.9 240.3L112.2 245.6L112.6 246.7L113.6 238.3L114.0 229.0L114.3 255.5L115.0 252.3L116.1 259.8L116.4 261.5L116.8 273.1L117.1 272.0L117.5 276.1L118.6 281.8L118.9 264.9L119.6 264.1L120.0 252.3L121.0 253.2L121.4 253.0L121.7 255.6L122.1 255.6L122.4 246.1L123.5 235.9L123.8 235.9L124.2 228.6L124.5 221.0L124.9 211.6L126.0 199.2L126.7 264.0L127.0 268.0L127.4 267.4L128.4 271.4L129.1 271.9L129.5 260.3L129.8 276.1L130.9 279.4L131.2 284.0L131.6 286.0L131.9 288.3L132.3 288.1L133.4 285.6L133.7 290.7L134.1 291.8L134.4 295.6L134.8 302.2L136.2 295.0L136.5 296.2L136.9 296.7L137.2 301.1L138.3 297.1L138.6 255.9L139.0 262.4L139.4 267.6L139.7 259.4L140.8 263.1L141.1 267.2L141.5 269.5L141.8 269.2L142.2 271.6L143.2 270.9L143.6 271.6L143.9 271.8L144.3 273.2L144.6 273.4L146.1 278.1L146.4 276.5L146.8 278.3L147.1 280.7L148.2 282.6L148.5 281.8L148.9 284.1L149.2 284.5L149.6 248.2L150.6 249.9L151.0 251.4L151.3 247.3L151.7 244.7L152.0 241.4L153.1 240.5L153.5 244.4L153.8 244.7L154.2 246.1L154.5 246.6L155.6 248.9L155.9 248.5L156.3 248.4L156.6 250.2L157.0 251.8L158.0 254.5L158.4 253.3L158.7 253.3L159.1 253.7L159.5 256.1L160.5 258.6L160.9 245.3L161.2 247.0L161.6 249.3L161.9 250.3L163.0 251.6L163.3 250.0L163.7 250.3L164.0 252.2L164.4 253.7L165.4 254.8L165.8 255.0L166.2 253.2L166.5 255.3L167.9 257.1L168.3 256.6L168.6 256.4L169.0 257.8L169.3 257.4L170.4 260.5L170.7 259.5L171.1 259.6L171.4 259.5L171.8 241.5L172.9 240.5L173.2 235.9L173.6 233.1L173.9 228.6L174.3 223.9L175.3 215.8L175.7 218.5L176.0 219.9L176.4 221.7L176.7 224.2L177.8 220.1L178.1 219.7L178.5 220.4L178.8 219.6L179.2 219.6L180.6 213.8L181.0 209.4L181.3 211.0L181.7 206.5L182.7 202.4L183.1 213.6L183.4 247.2L183.8 249.6L184.1 255.4L185.2 257.6L185.5 260.0L185.9 261.5L186.2 259.1L186.6 262.6L187.7 262.9L188.0 261.5L188.4 260.1L188.7 263.1L189.1 263.7L190.1 262.7L190.5 266.7L190.8 267.6L191.2 268.6L191.5 270.6L192.6 274.2L192.9 274.3L193.3 277.2L194.0 275.6L195.1 240.1L195.4 240.1L195.8 240.3L196.1 238.4L196.5 240.7L197.5 242.0L197.9 243.5L198.2 241.8L198.6 241.1L198.9 241.3L200.0 242.6L200.4 243.5L200.7 245.0L201.1 243.6L201.4 246.3L202.5 246.7L202.8 243.4L203.2 243.3L203.5 236.9L203.9 229.0L204.9 215.3L205.3 220.1L205.6 244.5L206.0 243.2L206.3 241.7L207.4 244.5L207.8 239.3L208.1 244.2L208.5 250.3L208.8 249.0L209.9 240.7L210.2 239.0L210.6 242.7L210.9 247.7L211.3 248.9L212.3 245.6L212.7 240.3L213.0 240.4L213.4 243.3L213.8 249.5L215.2 256.4L215.5 256.9L215.9 258.2L216.2 261.4L217.3 240.0L217.6 239.5L218.0 240.4L218.3 240.0L218.7 240.8L219.7 243.0L220.1 244.2L220.4 244.2L220.8 244.3L221.2 242.7L222.2 242.9L222.6 242.4L222.9 239.9L223.3 237.9L223.6 239.6L224.7 236.1L225.0 232.0L225.4 227.9L225.7 226.1L226.1 226.5L227.1 226.7L227.5 229.0L227.9 242.8L228.2 238.3L228.6 232.8L229.6 243.8L230.0 254.4L230.3 254.3L230.7 254.3L231.0 255.6L232.1 255.5L232.4 258.3L232.8 258.5L233.1 258.4L233.5 259.7L234.6 261.8L234.9 262.8L235.3 264.7L235.6 263.0L236.0 264.0L237.0 269.5L237.4 270.1L237.7 271.5L238.1 273.9L238.4 234.6L239.5 233.2L239.8 233.1L240.2 234.4L240.5 235.2L240.9 235.3L242.0 235.3L242.3 234.5L242.7 233.9L243.0 237.8L243.4 238.6L244.4 240.4L244.8 240.3L245.1 240.1L245.8 242.7L246.9 239.7L247.2 237.7L247.6 237.0L248.0 240.8L248.3 241.9L249.4 239.4L249.7 240.6L250.1 232.4L250.4 237.6L250.8 237.6L251.8 241.8L252.2 242.2L252.5 241.8L252.9 244.4L253.2 247.4L254.3 248.0L254.7 247.8L255.4 251.0L255.7 251.0L256.8 247.4L257.1 249.3L257.8 254.4L258.2 250.1L259.2 252.1L259.6 250.4L259.9 253.4L260.3 257.6L260.6 255.7L261.7 260.0L262.1 225.7L262.4 230.4L262.8 236.4L263.1 236.8L264.5 234.1L264.9 235.9L265.2 235.7L265.6 234.0L266.6 226.7L267.0 223.0L267.3 224.0L267.7 220.7L268.0 218.3L269.1 230.8L269.5 233.2L269.8 236.9L270.2 236.7L270.5 238.2L271.6 238.4L271.9 241.7L272.3 244.5L272.6 243.8L273.0 221.1L274.4 219.3L274.7 222.3L275.1 219.8L275.5 213.2L276.5 192.2L276.9 173.7L277.2 171.5L277.6 145.7L277.9 141.0L279.0 166.6L279.3 150.2L279.7 174.1L280.0 154.2L280.4 144.4L281.4 102.1L281.8 127.5L282.2 101.0L282.5 52.1L282.9 95.3L283.9 34.2L284.3 61.1L284.6 266.1L285.0 268.2L285.3 248.8L286.4 236.2L286.7 275.5L287.1 280.8L287.4 306.6L287.8 292.6L288.9 307.2L289.2 300.7L289.6 280.7L289.9 291.1L290.3 284.2L291.3 315.7L291.7 315.3L292.0 331.0L292.4 338.0L293.8 334.5L294.1 348.8L294.5 339.4L294.8 342.9L295.2 357.0L296.3 247.3L296.6 231.1L297.0 242.8L297.3 242.6L297.7 249.9L298.7 257.6L299.1 254.8L299.4 269.3L299.8 264.0L300.1 248.8L301.2 251.1L301.5 255.8L301.9 252.0L302.3 258.2L302.6 267.4L303.7 267.4L304.0 256.2L304.4 246.8L304.7 253.0L305.1 255.0L306.1 272.0L306.5 266.1L306.8 240.3L307.2 236.0L307.5 237.1L309.0 244.1L309.3 252.4L309.7 251.2L310.0 253.9L311.1 256.1L311.4 260.8L311.8 268.7L312.1 266.6L312.5 282.1L313.5 289.2L313.9 284.5L314.2 281.3L314.6 267.3L314.9 253.3L316.0 258.2L316.4 269.1L316.7 266.8L317.1 267.2L317.4 264.0L318.5 233.5L318.8 235.9L319.2 220.7L319.5 227.1L319.9 213.0L320.9 221.2L321.3 230.1L321.6 233.1L322.0 235.7L323.4 245.1L323.8 238.5L324.1 243.2L324.5 239.9L324.8 246.1L325.9 240.4L326.2 248.3L326.6 254.0L326.9 251.9L327.3 253.6L328.3 258.7L328.7 259.6L329.0 263.2L329.4 227.9L329.8 224.3L330.8 227.8L331.2 222.7L331.5 229.0L331.9 227.3L332.2 234.7L333.3 242.1L333.6 242.9L334.0 244.6L334.3 242.8L334.7 247.7L335.7 251.1L336.1 254.6L336.5 257.5L336.8 256.3L337.2 258.0L338.2 261.2L338.6 259.7L338.9 257.6L339.3 255.7L339.6 263.0L340.7 218.7L341.0 227.8L341.4 236.5L341.7 235.6L342.1 238.3L343.2 240.5L343.5 240.6L343.9 243.5L344.2 245.4L344.6 226.0L346.0 215.4L346.3 199.9L346.7 204.9L347.0 208.5L348.1 208.9L348.4 206.1L348.8 205.1L349.1 199.6L349.5 195.2L350.6 187.4L350.9 182.9L351.3 186.7L351.6 227.4L352.0 233.2L353.0 243.0L353.4 244.3L353.7 250.3L354.1 252.6L354.4 255.3L355.5 261.0L355.8 269.6L356.2 275.3L356.5 274.2L356.9 275.6L358.0 276.3L358.3 278.5L358.7 274.4L359.0 270.9L359.4 269.5L360.4 256.0L360.8 261.3L361.1 260.8L361.5 260.0L361.8 259.2L362.9 220.1L363.2 208.5L363.6 197.2L364.0 198.6L364.3 200.0L365.4 215.4L365.7 214.2L366.1 221.3L366.4 229.5L366.8 235.7L367.8 248.7L368.2 250.7L368.5 251.4L368.9 258.2L369.2 262.1L370.3 263.5L370.7 260.0L371.0 258.0L371.4 253.4L371.7 256.2L372.8 263.9L373.1 265.5L373.5 209.4L374.2 212.2L375.2 216.7L375.6 217.6L375.9 215.4L376.3 218.4L376.6 219.0L377.7 217.1L378.1 220.0L378.4 217.9L378.8 219.2L379.1 221.5L380.2 224.1L380.5 224.6L380.9 225.3L381.2 222.9L381.6 223.1L382.6 218.7L383.0 221.3L383.3 222.4L383.7 228.8L385.1 227.1L385.5 204.8L385.8 210.2L386.2 208.9L387.6 209.8L387.9 220.0L388.3 218.9L388.6 221.2L389.0 220.8L390.0 218.7L390.4 219.8L390.8 219.4L391.1 218.5L391.5 219.9L392.9 227.4L393.2 230.1L393.6 231.9L393.9 229.5L395.0 227.1L395.3 225.6L395.7 219.8L396.0 215.8L396.4 214.0L397.5 202.0L397.8 213.0L398.2 222.4L398.5 228.6L398.9 229.9L399.9 233.0L400.3 231.4L400.6 227.8L401.0 230.9L401.3 234.7L402.7 229.4L403.1 227.4L403.4 229.2L403.8 225.1L404.9 224.0L405.2 229.2L405.6 225.3L405.9 223.2L406.3 216.3L407.3 206.1L407.7 199.6L408.0 199.8L408.4 202.9L408.7 216.9L409.8 222.6L410.1 228.4L410.5 232.4L410.8 240.0L411.2 241.9L412.3 238.8L412.6 239.8L413.0 236.7L413.3 231.5L413.7 229.3L414.7 228.5L415.1 233.7L415.4 234.0L415.8 242.2L416.1 243.3L417.2 246.9L417.5 251.9L417.9 251.5L418.3 258.7L419.7 264.1L420.0 187.3L420.4 194.3L420.7 195.3L421.1 197.0L422.1 197.9L422.5 202.5L422.8 202.5L423.2 202.5L423.5 200.0L424.6 204.1L425.0 205.5L425.3 201.4L425.7 201.3L426.0 203.7L427.1 206.2L427.4 207.9L427.8 209.5L428.1 209.4L428.5 212.5L429.5 204.8L429.9 205.7L430.2 208.7L430.6 181.8L430.9 168.7L432.0 156.1L432.4 155.2L432.7 160.4L433.1 165.5L433.4 170.4L434.5 167.0L434.8 168.3L435.2 173.8L435.5 178.6L435.9 179.2L436.9 180.9L437.3 181.9L437.6 183.4L438.0 184.5L438.4 185.1L439.8 184.2L440.1 185.7L440.5 188.7L440.8 187.5L441.9 188.5L442.2 180.7L442.6 179.6L442.9 182.6L443.3 183.1L444.3 177.8L444.7 176.1L445.0 178.3L445.4 171.6L445.8 171.2L446.8 179.1L447.2 184.8L447.5 188.9L447.9 191.2L448.2 189.4L449.3 196.3L449.6 202.3L450.0 203.4L450.3 208.5L450.7 206.7L452.1 209.0L452.5 204.3L452.8 205.7L453.2 174.1L454.2 169.4L454.6 164.7L454.9 162.9L455.3 154.7L455.6 156.9L456.7 163.5L457.0 173.6L457.4 181.6L457.7 182.6L458.1 182.3L459.2 182.3L459.5 180.2L459.9 176.2L460.2 182.1L460.6 181.2L461.6 177.5L462.0 182.6L462.3 181.7L462.7 184.8L463.0 185.7L464.1 184.2L464.4 171.1L464.8 170.2L465.1 171.8L465.5 174.4L466.6 179.6L466.9 178.0L467.3 174.3L467.6 175.0L468.0 173.5L469.0 178.6L469.4 179.6L469.7 182.2L470.1 184.2L470.4 186.3L471.5 187.3L471.8 190.4L472.2 188.1L472.6 188.2L472.9 190.2L474.3 184.9L474.7 181.7L475.0 184.4L475.4 168.6L476.4 167.4L476.8 170.1L477.1 168.3L477.5 161.3L477.8 158.1L478.9 153.4L479.3 149.7L479.6 156.7L480.0 164.3L480.3 158.9L481.4 146.4L481.7 143.5L482.1 143.5L482.4 138.4L482.8 140.5L483.8 144.3L484.2 146.7L484.5 149.2L484.9 145.8L485.2 144.7L486.3 139.8L486.7 175.5L487.0 177.9L487.4 191.8L487.7 198.1L488.8 200.9L489.1 207.3L489.5 210.3L489.8 212.9L490.2 212.0L491.2 215.9L491.6 217.6L491.9 213.3L492.3 221.6L492.6 223.3L493.7 224.9L494.1 228.1L494.4 233.6L494.8 237.4L495.1 240.7L496.2 241.5L496.5 238.3L496.9 231.2L497.2 161.5L497.6 167.2L498.6 170.7L499.0 169.8L499.3 171.2L499.7 168.8L500.1 168.7L501.1 165.4L501.5 170.9L501.8 168.6L502.5 151.4L503.6 139.8L503.9 136.3L504.3 139.2L504.6 132.4L505.0 140.2L506.0 158.6L506.4 167.5L506.8 163.8L507.1 161.4L507.5 162.4L508.5 163.0L508.9 162.2L509.2 160.4L509.6 160.2L509.9 161.5L511.0 177.1L511.3 183.9L511.7 189.1L512.0 189.0L513.5 188.0L513.8 188.5L514.2 192.8L514.5 189.4L514.9 194.0L515.9 195.4L516.3 192.9L516.6 173.7L517.0 173.2L517.3 169.6L518.4 169.3L518.7 174.2L519.1 177.7L519.4 166.0L519.8 160.8L521.2 144.6L521.6 136.4L521.9 127.0L522.3 111.0L523.3 113.2L523.7 103.1L524.0 102.0L524.4 97.6L524.7 117.4L525.8 133.2L526.1 139.0L526.5 146.9L526.9 125.8L527.2 130.2L528.3 135.6L528.6 141.1L529.0 146.5L529.3 130.9L529.7 114.9L530.7 111.7L531.1 124.7L531.4 169.7L531.8 151.8L532.1 146.0L533.5 137.7L533.9 122.8L534.3 134.7L534.6 152.7L535.7 150.7L536.0 137.9L536.4 153.1L536.7 148.6L537.1 142.2L538.1 118.1L538.5 112.3L538.8 132.6L539.2 129.2L539.5 118.7L540.6 112.9L541.0 129.6L541.3 147.7L541.7 157.8L542.0 167.4L543.1 170.3L543.4 179.9L543.8 169.4L544.1 181.4L544.5 185.7L545.5 191.9L545.9 202.5L546.2 196.8L546.6 183.3L546.9 186.3L548.0 193.3L548.4 182.4L548.7 174.1L549.1 177.7L549.4 175.4L550.5 161.3L550.8 158.3L551.2 167.7L551.5 157.5L552.9 157.3L553.3 170.5L553.6 169.9L554.0 173.5L554.4 150.5L555.4 155.0L555.8 132.3L556.1 134.0L556.5 153.3L556.8 140.9L557.9 128.5L558.2 132.3L558.6 155.8L558.9 139.1L559.3 122.5L560.3 97.7L560.7 99.6L561.1 87.1L561.4 86.2L561.8 103.9L562.8 100.9L563.2 116.1L563.5 98.4L563.9 80.8L564.2 80.8L565.3 193.2L565.6 187.0L566.0 194.1L566.3 209.0L566.7 227.8L568.1 222.9L568.5 217.1L568.8 231.4L569.2 218.6L570.2 220.9L570.6 228.4L570.9 219.9L571.3 201.5L571.6 179.5L572.7 163.9L573.0 148.3L573.4 158.6L573.7 135.5L574.1 137.0L575.5 153.9L575.9 153.0L576.2 159.7L576.6 196.1L577.6 193.9L578.0 179.2L578.3 178.6L578.7 172.2L579.0 179.8L580.4 180.9L580.8 183.5L581.1 194.4L581.5 193.7L582.6 185.2L582.9 178.6L583.3 175.4L583.6 173.2L584.0 186.9L585.0 180.9L585.4 200.8L585.7 205.2L586.1 212.5L586.4 205.5L587.5 206.5L587.8 197.8L588.2 190.9L588.6 199.9L588.9 210.8L590.0 208.7L590.3 203.5L590.7 215.5L591.0 214.9L591.4 213.6L592.4 212.7L592.8 209.3L593.1 225.8L593.5 225.3L593.8 239.0L594.9 242.2L595.3 243.7L595.6 237.9L596.0 239.8L596.3 229.4L597.4 212.3L597.7 210.6L598.1 212.9L598.4 223.8L598.8 189.3L599.8 184.2L600.2 175.7L600.5 169.9L600.9 172.1L601.2 164.1L602.7 161.1L603.0 174.6L603.4 179.5L603.7 191.0L604.8 199.0L605.1 183.6L605.5 168.2L605.8 159.7L606.2 154.5L607.2 159.5L607.6 151.3L607.9 138.9L608.3 132.8L608.7 120.6L609.7 113.5L610.1 112.0L610.4 205.2L610.8 190.3L611.1 180.2L612.2 197.5L612.5 218.7L612.9 217.2L613.2 210.1L613.6 190.3L614.6 185.1L615.0 180.8L615.4 178.5L615.7 196.0L616.1 179.6L617.1 197.5L617.5 205.4L617.8 200.7L618.2 195.2L618.5 211.6L619.6 219.9L619.9 231.5L620.3 226.3L620.6 221.8L621.0 196.6L622.0 191.2L622.4 188.2L622.8 170.1L623.1 162.6L623.5 172.2L624.5 179.0L624.9 182.9L625.2 168.1L625.6 181.1L625.9 194.1L627.0 207.2L627.3 213.8L627.7 207.6L628.0 205.3L628.4 208.7L629.5 205.9L629.8 216.0L630.2 220.3L630.9 220.2L631.9 208.5L632.3 207.4L632.6 188.2L633.0 187.7L633.3 186.7L634.4 173.0L634.7 162.1L635.1 160.8L635.4 166.2L635.8 160.8L636.9 171.5L637.2 176.9L637.6 172.2L637.9 153.6L638.3 145.4L639.3 139.0L639.7 139.7L640.0 150.2L640.4 139.7L640.7 144.0L642.1 141.0L642.5 132.4L642.9 144.8L643.2 143.1L644.6 200.3L645.0 205.7L645.3 197.3L645.7 213.6L646.7 213.1L647.1 218.1L647.4 227.7L647.8 230.2L648.1 233.2L649.6 231.7L649.9 220.0L650.3 214.4L650.6 228.3L651.7 237.1L652.0 236.6L652.4 236.4L652.7 244.6L653.1 246.7L654.1 236.7L654.5 247.8L654.8 255.7L655.2 267.2"/>
</g>
<path d="M65.30 396.5v2.43M130.06 396.5v2.43M193.76 396.5v2.43M258.52 396.5v2.43M322.58 396.5v2.43M387.33 396.5v2.43M451.04 396.5v2.43M515.80 396.5v2.43M579.50 396.5v2.43M644.26 396.5v2.43M42.0 380.05h-2.43M42.0 333.04h-2.43M42.0 286.02h-2.43M42.0 239.00h-2.43M42.0 191.99h-2.43M42.0 144.97h-2.43M42.0 97.96h-2.43M42.0 50.94h-2.43" stroke="#1a1a1a" stroke-width="0.56" fill="none"/>
<rect x="42.0" y="16.5" width="642.00" height="380.00" fill="none" stroke="#4d4d4d" stroke-width="1.0"/>
<text class="tk" x="64.70" y="408.3" text-anchor="middle" transform="rotate(0.03 65.3 408)">2018-07</text>
<text class="tk" x="129.46" y="408.3" text-anchor="middle" transform="rotate(0.03 130.1 408)">2019-01</text>
<text class="tk" x="193.16" y="408.3" text-anchor="middle" transform="rotate(0.03 193.8 408)">2019-07</text>
<text class="tk" x="257.92" y="408.3" text-anchor="middle" transform="rotate(0.03 258.5 408)">2020-01</text>
<text class="tk" x="321.98" y="408.3" text-anchor="middle" transform="rotate(0.03 322.6 408)">2020-07</text>
<text class="tk" x="386.73" y="408.3" text-anchor="middle" transform="rotate(0.03 387.3 408)">2021-01</text>
<text class="tk" x="450.44" y="408.3" text-anchor="middle" transform="rotate(0.03 451.0 408)">2021-07</text>
<text class="tk" x="515.20" y="408.3" text-anchor="middle" transform="rotate(0.03 515.8 408)">2022-01</text>
<text class="tk" x="578.90" y="408.3" text-anchor="middle" transform="rotate(0.03 579.5 408)">2022-07</text>
<text class="tk" x="643.66" y="408.3" text-anchor="middle" transform="rotate(0.03 644.3 408)">2023-01</text>
<text class="tk" x="36.7" y="382.95" text-anchor="end" transform="rotate(0.03 36 380.1)">0</text>
<text class="tk" x="36.7" y="335.94" text-anchor="end" transform="rotate(0.03 36 333.0)">250</text>
<text class="tk" x="36.7" y="288.92" text-anchor="end" transform="rotate(0.03 36 286.0)">500</text>
<text class="tk" x="36.7" y="241.91" text-anchor="end" transform="rotate(0.03 36 239.0)">750</text>
<text class="tk" x="36.7" y="194.89" text-anchor="end" transform="rotate(0.03 36 192.0)">1000</text>
<text class="tk" x="36.7" y="147.88" text-anchor="end" transform="rotate(0.03 36 145.0)">1250</text>
<text class="tk" x="36.7" y="100.86" text-anchor="end" transform="rotate(0.03 36 98.0)">1500</text>
<text class="tk" x="36.7" y="53.84" text-anchor="end" transform="rotate(0.03 36 50.9)">1750</text>
<text x="362.8" y="421.7" text-anchor="middle" transform="rotate(0.03 362 421)" style="font-size:11.3px">Date</text>
<text transform="translate(8.6 207.3) rotate(-89.97)" text-anchor="middle" style="font-size:11.4px">USD</text>
<text x="362.8" y="12.2" text-anchor="middle" transform="rotate(0.03 362 12)" style="font-size:14.6px">Straddle value <tspan style="font-style:italic">V</tspan><tspan style="font-style:italic;font-size:10.2px" dy="2.2">t</tspan></text>
<rect x="619.6" y="21.0" width="60.0" height="108.4" rx="1.4" ry="1.4" fill="#ffffff" fill-opacity="0.8" stroke="#cccccc" stroke-width="0.56"/>
<text x="643.6" y="32.2" transform="rotate(0.03 643 32)" style="font-size:8.33px;font-style:italic">m<tspan style="font-style:normal;font-size:6.3px" dy="1.0">0</tspan></text>
<path d="M623.4 43.30H643.9" stroke="#1f77b4" stroke-width="1.04" stroke-linecap="square" fill="none"/>
<text class="lg" x="652.3" y="46.80" transform="rotate(0.03 652 43.3)">0.75</text>
<path d="M623.4 58.45H643.9" stroke="#ff7f0e" stroke-width="1.04" stroke-linecap="square" fill="none"/>
<text class="lg" x="652.3" y="61.95" transform="rotate(0.03 652 58.4)">0.8</text>
<path d="M623.4 73.60H643.9" stroke="#2ca02c" stroke-width="1.04" stroke-linecap="square" fill="none"/>
<text class="lg" x="652.3" y="77.10" transform="rotate(0.03 652 73.6)">0.9</text>
<path d="M623.4 88.75H643.9" stroke="#d62728" stroke-width="1.04" stroke-linecap="square" fill="none"/>
<text class="lg" x="652.3" y="92.25" transform="rotate(0.03 652 88.8)">1.1</text>
<path d="M623.4 103.90H643.9" stroke="#9467bd" stroke-width="1.04" stroke-linecap="square" fill="none"/>
<text class="lg" x="652.3" y="107.40" transform="rotate(0.03 652 103.9)">1.2</text>
<path d="M623.4 119.05H643.9" stroke="#8c564b" stroke-width="1.04" stroke-linecap="square" fill="none"/>
<text class="lg" x="652.3" y="122.55" transform="rotate(0.03 652 119.0)">1.25</text>
</svg>
</body></html>
